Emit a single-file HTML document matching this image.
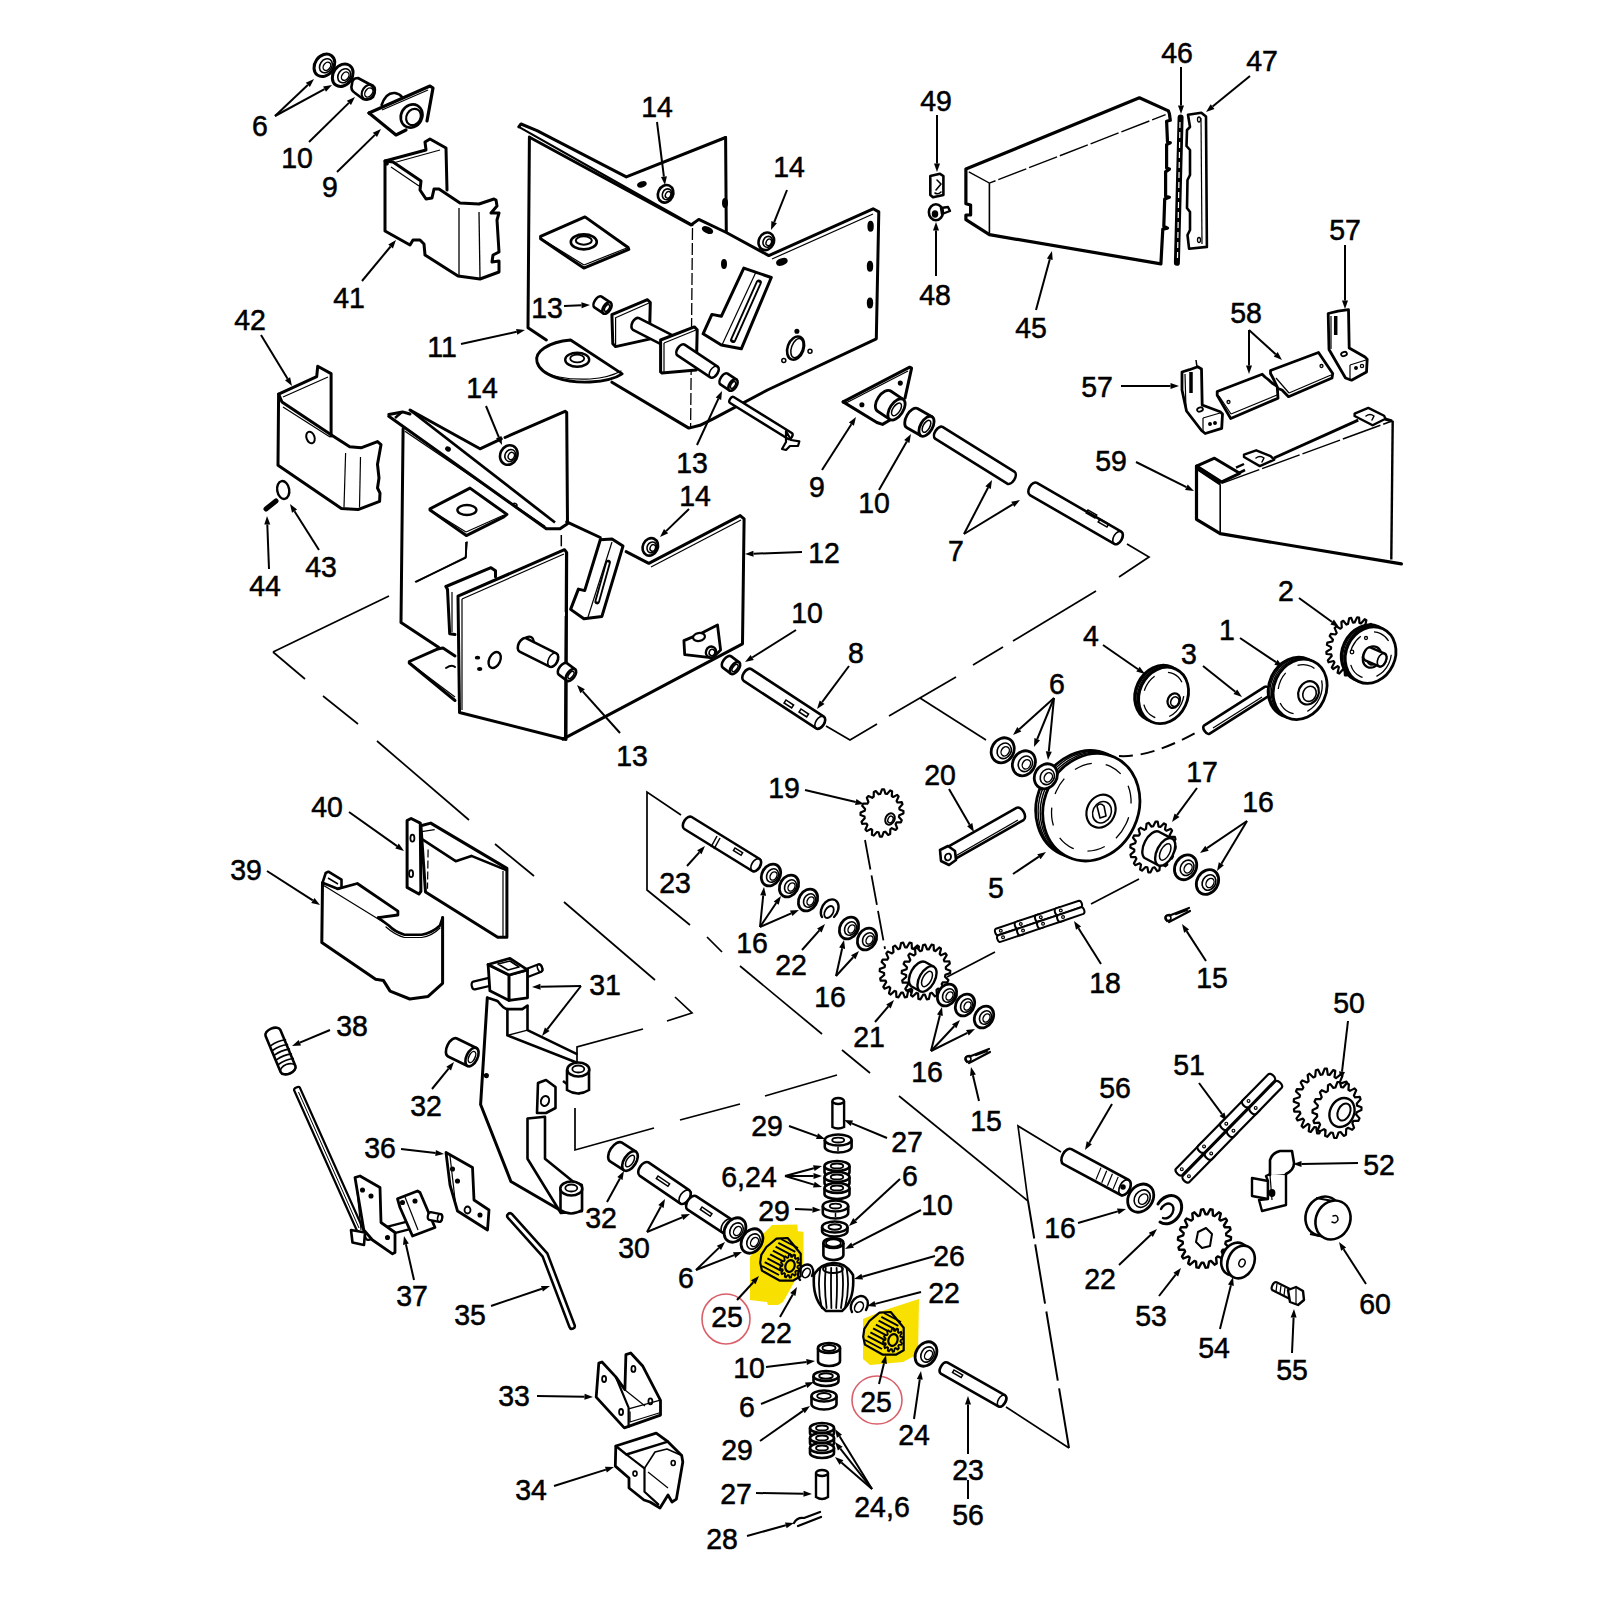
<!DOCTYPE html>
<html><head><meta charset="utf-8"><style>
html,body{margin:0;padding:0;background:#fff;}
svg{display:block;}
text{font-family:"Liberation Sans",sans-serif;fill:#000;}
</style></head><body>
<svg width="1600" height="1600" viewBox="0 0 1600 1600">
<rect width="1600" height="1600" fill="#fff"/>
<polygon points="772,1225 797.3,1224.5 797.9,1231.2 803.5,1231.8 803.5,1262 801,1270 783,1302 778,1305 768,1305 767,1302 750,1300 750,1257 762,1235" fill="#f8e000"/>
<polygon points="863,1319 882,1311 919,1299 918,1354 903,1362 870,1365 863,1359" fill="#f8e000"/>
<ellipse cx="726" cy="1319" rx="24" ry="25" fill="none" stroke="#d9606a" stroke-width="1.6"/>
<ellipse cx="877" cy="1400" rx="25" ry="24" fill="none" stroke="#d9606a" stroke-width="1.6"/>
<polyline points="273.0,652.0 389.0,596.0" fill="none" stroke="#000" stroke-width="1.7" stroke-linejoin="miter"/>
<polyline points="416.0,582.0 466.0,557.0 466.0,542.0" fill="none" stroke="#000" stroke-width="1.7" stroke-linejoin="miter"/>
<polyline points="273.0,652.0 305.0,679.0" fill="none" stroke="#000" stroke-width="1.7" stroke-linejoin="miter"/>
<polyline points="323.0,696.0 358.0,724.0" fill="none" stroke="#000" stroke-width="1.7" stroke-linejoin="miter"/>
<polyline points="377.0,741.0 469.0,820.0" fill="none" stroke="#000" stroke-width="1.7" stroke-linejoin="miter"/>
<polyline points="495.0,844.0 534.0,876.0" fill="none" stroke="#000" stroke-width="1.7" stroke-linejoin="miter"/>
<polyline points="564.0,902.0 655.0,980.0" fill="none" stroke="#000" stroke-width="1.7" stroke-linejoin="miter"/>
<polyline points="675.0,997.0 692.0,1013.0 667.0,1021.0" fill="none" stroke="#000" stroke-width="1.7" stroke-linejoin="miter"/>
<polyline points="643.0,1029.0 577.0,1047.0 577.0,1062.0" fill="none" stroke="#000" stroke-width="1.7" stroke-linejoin="miter"/>
<polyline points="575.0,1108.0 575.0,1150.0 654.0,1128.0" fill="none" stroke="#000" stroke-width="1.7" stroke-linejoin="miter"/>
<polyline points="680.0,1120.0 740.0,1104.0" fill="none" stroke="#000" stroke-width="1.7" stroke-linejoin="miter"/>
<polyline points="765.0,1096.0 837.0,1075.0" fill="none" stroke="#000" stroke-width="1.7" stroke-linejoin="miter"/>
<polyline points="681.0,815.0 647.0,792.0 647.0,890.0 690.0,925.0" fill="none" stroke="#000" stroke-width="1.7" stroke-linejoin="miter"/>
<polyline points="707.0,937.0 722.0,952.0" fill="none" stroke="#000" stroke-width="1.7" stroke-linejoin="miter"/>
<polyline points="740.0,966.0 822.0,1034.0" fill="none" stroke="#000" stroke-width="1.7" stroke-linejoin="miter"/>
<polyline points="842.0,1050.0 870.0,1073.0" fill="none" stroke="#000" stroke-width="1.7" stroke-linejoin="miter"/>
<polyline points="899.0,1096.0 1028.0,1201.0" fill="none" stroke="#000" stroke-width="1.7" stroke-linejoin="miter"/>
<polyline points="1061.0,1152.0 1018.0,1126.0 1028.0,1201.0" fill="none" stroke="#000" stroke-width="1.7" stroke-linejoin="miter"/>
<line x1="1028" y1="1201" x2="1069" y2="1448" stroke="#000" stroke-width="2" stroke-dasharray="38,6,60,8,70,8,80"/>
<polyline points="1069.0,1448.0 1006.0,1407.0" fill="none" stroke="#000" stroke-width="1.7" stroke-linejoin="miter"/>
<polyline points="826.0,726.0 850.0,740.0 877.0,724.0" fill="none" stroke="#000" stroke-width="1.7" stroke-linejoin="miter"/>
<polyline points="889.0,716.0 956.0,677.0" fill="none" stroke="#000" stroke-width="1.7" stroke-linejoin="miter"/>
<polyline points="973.0,665.0 1003.0,647.0" fill="none" stroke="#000" stroke-width="1.7" stroke-linejoin="miter"/>
<polyline points="1013.0,641.0 1096.0,591.0" fill="none" stroke="#000" stroke-width="1.7" stroke-linejoin="miter"/>
<polyline points="1119.0,577.0 1149.0,557.0 1127.0,544.0" fill="none" stroke="#000" stroke-width="1.7" stroke-linejoin="miter"/>
<polyline points="920.0,698.0 986.0,740.0" fill="none" stroke="#000" stroke-width="1.7" stroke-linejoin="miter"/>
<line x1="865" y1="840" x2="885" y2="949" stroke="#000" stroke-width="1.8" stroke-dasharray="30,6"/>
<polyline points="1139.0,879.0 1091.0,904.0" fill="none" stroke="#000" stroke-width="1.7" stroke-linejoin="miter"/>
<polyline points="995.0,952.0 947.0,977.0" fill="none" stroke="#000" stroke-width="1.7" stroke-linejoin="miter"/>
<path d="M1119,756 Q1150,758 1197,732" fill="none" stroke="#000" stroke-width="2" stroke-dasharray="14,8"/>
<text transform="translate(260 135.8) scale(0.95 1)" x="0" y="0" font-size="30" text-anchor="middle" stroke="#000" stroke-width="0.55">6</text>
<text transform="translate(297 167.8) scale(0.95 1)" x="0" y="0" font-size="30" text-anchor="middle" stroke="#000" stroke-width="0.55">10</text>
<text transform="translate(330 196.8) scale(0.95 1)" x="0" y="0" font-size="30" text-anchor="middle" stroke="#000" stroke-width="0.55">9</text>
<text transform="translate(349 307.8) scale(0.95 1)" x="0" y="0" font-size="30" text-anchor="middle" stroke="#000" stroke-width="0.55">41</text>
<text transform="translate(250 329.8) scale(0.95 1)" x="0" y="0" font-size="30" text-anchor="middle" stroke="#000" stroke-width="0.55">42</text>
<text transform="translate(321 576.8) scale(0.95 1)" x="0" y="0" font-size="30" text-anchor="middle" stroke="#000" stroke-width="0.55">43</text>
<text transform="translate(265 595.8) scale(0.95 1)" x="0" y="0" font-size="30" text-anchor="middle" stroke="#000" stroke-width="0.55">44</text>
<text transform="translate(657 116.8) scale(0.95 1)" x="0" y="0" font-size="30" text-anchor="middle" stroke="#000" stroke-width="0.55">14</text>
<text transform="translate(789 176.8) scale(0.95 1)" x="0" y="0" font-size="30" text-anchor="middle" stroke="#000" stroke-width="0.55">14</text>
<text transform="translate(547 317.8) scale(0.95 1)" x="0" y="0" font-size="30" text-anchor="middle" stroke="#000" stroke-width="0.55">13</text>
<text transform="translate(442 356.8) scale(0.95 1)" x="0" y="0" font-size="30" text-anchor="middle" stroke="#000" stroke-width="0.55">11</text>
<text transform="translate(482 397.8) scale(0.95 1)" x="0" y="0" font-size="30" text-anchor="middle" stroke="#000" stroke-width="0.55">14</text>
<text transform="translate(692 472.8) scale(0.95 1)" x="0" y="0" font-size="30" text-anchor="middle" stroke="#000" stroke-width="0.55">13</text>
<text transform="translate(936 110.8) scale(0.95 1)" x="0" y="0" font-size="30" text-anchor="middle" stroke="#000" stroke-width="0.55">49</text>
<text transform="translate(935 304.8) scale(0.95 1)" x="0" y="0" font-size="30" text-anchor="middle" stroke="#000" stroke-width="0.55">48</text>
<text transform="translate(1177 62.8) scale(0.95 1)" x="0" y="0" font-size="30" text-anchor="middle" stroke="#000" stroke-width="0.55">46</text>
<text transform="translate(1262 70.8) scale(0.95 1)" x="0" y="0" font-size="30" text-anchor="middle" stroke="#000" stroke-width="0.55">47</text>
<text transform="translate(1031 337.8) scale(0.95 1)" x="0" y="0" font-size="30" text-anchor="middle" stroke="#000" stroke-width="0.55">45</text>
<text transform="translate(1345 239.8) scale(0.95 1)" x="0" y="0" font-size="30" text-anchor="middle" stroke="#000" stroke-width="0.55">57</text>
<text transform="translate(1246 322.8) scale(0.95 1)" x="0" y="0" font-size="30" text-anchor="middle" stroke="#000" stroke-width="0.55">58</text>
<text transform="translate(1097 396.8) scale(0.95 1)" x="0" y="0" font-size="30" text-anchor="middle" stroke="#000" stroke-width="0.55">57</text>
<text transform="translate(1111 470.8) scale(0.95 1)" x="0" y="0" font-size="30" text-anchor="middle" stroke="#000" stroke-width="0.55">59</text>
<text transform="translate(817 496.8) scale(0.95 1)" x="0" y="0" font-size="30" text-anchor="middle" stroke="#000" stroke-width="0.55">9</text>
<text transform="translate(874 512.8) scale(0.95 1)" x="0" y="0" font-size="30" text-anchor="middle" stroke="#000" stroke-width="0.55">10</text>
<text transform="translate(695 505.8) scale(0.95 1)" x="0" y="0" font-size="30" text-anchor="middle" stroke="#000" stroke-width="0.55">14</text>
<text transform="translate(956 560.8) scale(0.95 1)" x="0" y="0" font-size="30" text-anchor="middle" stroke="#000" stroke-width="0.55">7</text>
<text transform="translate(824 562.8) scale(0.95 1)" x="0" y="0" font-size="30" text-anchor="middle" stroke="#000" stroke-width="0.55">12</text>
<text transform="translate(807 622.8) scale(0.95 1)" x="0" y="0" font-size="30" text-anchor="middle" stroke="#000" stroke-width="0.55">10</text>
<text transform="translate(856 662.8) scale(0.95 1)" x="0" y="0" font-size="30" text-anchor="middle" stroke="#000" stroke-width="0.55">8</text>
<text transform="translate(632 765.8) scale(0.95 1)" x="0" y="0" font-size="30" text-anchor="middle" stroke="#000" stroke-width="0.55">13</text>
<text transform="translate(1286 600.8) scale(0.95 1)" x="0" y="0" font-size="30" text-anchor="middle" stroke="#000" stroke-width="0.55">2</text>
<text transform="translate(1091 645.8) scale(0.95 1)" x="0" y="0" font-size="30" text-anchor="middle" stroke="#000" stroke-width="0.55">4</text>
<text transform="translate(1189 663.8) scale(0.95 1)" x="0" y="0" font-size="30" text-anchor="middle" stroke="#000" stroke-width="0.55">3</text>
<text transform="translate(1227 639.8) scale(0.95 1)" x="0" y="0" font-size="30" text-anchor="middle" stroke="#000" stroke-width="0.55">1</text>
<text transform="translate(1057 693.8) scale(0.95 1)" x="0" y="0" font-size="30" text-anchor="middle" stroke="#000" stroke-width="0.55">6</text>
<text transform="translate(784 797.8) scale(0.95 1)" x="0" y="0" font-size="30" text-anchor="middle" stroke="#000" stroke-width="0.55">19</text>
<text transform="translate(940 784.8) scale(0.95 1)" x="0" y="0" font-size="30" text-anchor="middle" stroke="#000" stroke-width="0.55">20</text>
<text transform="translate(1202 781.8) scale(0.95 1)" x="0" y="0" font-size="30" text-anchor="middle" stroke="#000" stroke-width="0.55">17</text>
<text transform="translate(1258 811.8) scale(0.95 1)" x="0" y="0" font-size="30" text-anchor="middle" stroke="#000" stroke-width="0.55">16</text>
<text transform="translate(996 897.8) scale(0.95 1)" x="0" y="0" font-size="30" text-anchor="middle" stroke="#000" stroke-width="0.55">5</text>
<text transform="translate(327 816.8) scale(0.95 1)" x="0" y="0" font-size="30" text-anchor="middle" stroke="#000" stroke-width="0.55">40</text>
<text transform="translate(246 879.8) scale(0.95 1)" x="0" y="0" font-size="30" text-anchor="middle" stroke="#000" stroke-width="0.55">39</text>
<text transform="translate(675 892.8) scale(0.95 1)" x="0" y="0" font-size="30" text-anchor="middle" stroke="#000" stroke-width="0.55">23</text>
<text transform="translate(752 952.8) scale(0.95 1)" x="0" y="0" font-size="30" text-anchor="middle" stroke="#000" stroke-width="0.55">16</text>
<text transform="translate(791 974.8) scale(0.95 1)" x="0" y="0" font-size="30" text-anchor="middle" stroke="#000" stroke-width="0.55">22</text>
<text transform="translate(830 1006.8) scale(0.95 1)" x="0" y="0" font-size="30" text-anchor="middle" stroke="#000" stroke-width="0.55">16</text>
<text transform="translate(1105 992.8) scale(0.95 1)" x="0" y="0" font-size="30" text-anchor="middle" stroke="#000" stroke-width="0.55">18</text>
<text transform="translate(1212 987.8) scale(0.95 1)" x="0" y="0" font-size="30" text-anchor="middle" stroke="#000" stroke-width="0.55">15</text>
<text transform="translate(605 994.8) scale(0.95 1)" x="0" y="0" font-size="30" text-anchor="middle" stroke="#000" stroke-width="0.55">31</text>
<text transform="translate(869 1046.8) scale(0.95 1)" x="0" y="0" font-size="30" text-anchor="middle" stroke="#000" stroke-width="0.55">21</text>
<text transform="translate(1349 1012.8) scale(0.95 1)" x="0" y="0" font-size="30" text-anchor="middle" stroke="#000" stroke-width="0.55">50</text>
<text transform="translate(352 1035.8) scale(0.95 1)" x="0" y="0" font-size="30" text-anchor="middle" stroke="#000" stroke-width="0.55">38</text>
<text transform="translate(927 1081.8) scale(0.95 1)" x="0" y="0" font-size="30" text-anchor="middle" stroke="#000" stroke-width="0.55">16</text>
<text transform="translate(1189 1074.8) scale(0.95 1)" x="0" y="0" font-size="30" text-anchor="middle" stroke="#000" stroke-width="0.55">51</text>
<text transform="translate(1115 1097.8) scale(0.95 1)" x="0" y="0" font-size="30" text-anchor="middle" stroke="#000" stroke-width="0.55">56</text>
<text transform="translate(426 1115.8) scale(0.95 1)" x="0" y="0" font-size="30" text-anchor="middle" stroke="#000" stroke-width="0.55">32</text>
<text transform="translate(986 1130.8) scale(0.95 1)" x="0" y="0" font-size="30" text-anchor="middle" stroke="#000" stroke-width="0.55">15</text>
<text transform="translate(767 1135.8) scale(0.95 1)" x="0" y="0" font-size="30" text-anchor="middle" stroke="#000" stroke-width="0.55">29</text>
<text transform="translate(907 1151.8) scale(0.95 1)" x="0" y="0" font-size="30" text-anchor="middle" stroke="#000" stroke-width="0.55">27</text>
<text transform="translate(380 1157.8) scale(0.95 1)" x="0" y="0" font-size="30" text-anchor="middle" stroke="#000" stroke-width="0.55">36</text>
<text transform="translate(1379 1174.8) scale(0.95 1)" x="0" y="0" font-size="30" text-anchor="middle" stroke="#000" stroke-width="0.55">52</text>
<text transform="translate(749 1186.8) scale(0.95 1)" x="0" y="0" font-size="30" text-anchor="middle" stroke="#000" stroke-width="0.55">6,24</text>
<text transform="translate(910 1185.8) scale(0.95 1)" x="0" y="0" font-size="30" text-anchor="middle" stroke="#000" stroke-width="0.55">6</text>
<text transform="translate(774 1220.8) scale(0.95 1)" x="0" y="0" font-size="30" text-anchor="middle" stroke="#000" stroke-width="0.55">29</text>
<text transform="translate(937 1214.8) scale(0.95 1)" x="0" y="0" font-size="30" text-anchor="middle" stroke="#000" stroke-width="0.55">10</text>
<text transform="translate(601 1227.8) scale(0.95 1)" x="0" y="0" font-size="30" text-anchor="middle" stroke="#000" stroke-width="0.55">32</text>
<text transform="translate(1060 1237.8) scale(0.95 1)" x="0" y="0" font-size="30" text-anchor="middle" stroke="#000" stroke-width="0.55">16</text>
<text transform="translate(634 1257.8) scale(0.95 1)" x="0" y="0" font-size="30" text-anchor="middle" stroke="#000" stroke-width="0.55">30</text>
<text transform="translate(949 1265.8) scale(0.95 1)" x="0" y="0" font-size="30" text-anchor="middle" stroke="#000" stroke-width="0.55">26</text>
<text transform="translate(686 1287.8) scale(0.95 1)" x="0" y="0" font-size="30" text-anchor="middle" stroke="#000" stroke-width="0.55">6</text>
<text transform="translate(1100 1288.8) scale(0.95 1)" x="0" y="0" font-size="30" text-anchor="middle" stroke="#000" stroke-width="0.55">22</text>
<text transform="translate(944 1302.8) scale(0.95 1)" x="0" y="0" font-size="30" text-anchor="middle" stroke="#000" stroke-width="0.55">22</text>
<text transform="translate(412 1305.8) scale(0.95 1)" x="0" y="0" font-size="30" text-anchor="middle" stroke="#000" stroke-width="0.55">37</text>
<text transform="translate(470 1324.8) scale(0.95 1)" x="0" y="0" font-size="30" text-anchor="middle" stroke="#000" stroke-width="0.55">35</text>
<text transform="translate(1375 1313.8) scale(0.95 1)" x="0" y="0" font-size="30" text-anchor="middle" stroke="#000" stroke-width="0.55">60</text>
<text transform="translate(1151 1325.8) scale(0.95 1)" x="0" y="0" font-size="30" text-anchor="middle" stroke="#000" stroke-width="0.55">53</text>
<text transform="translate(727 1326.8) scale(0.95 1)" x="0" y="0" font-size="30" text-anchor="middle" stroke="#000" stroke-width="0.55">25</text>
<text transform="translate(776 1342.8) scale(0.95 1)" x="0" y="0" font-size="30" text-anchor="middle" stroke="#000" stroke-width="0.55">22</text>
<text transform="translate(1214 1357.8) scale(0.95 1)" x="0" y="0" font-size="30" text-anchor="middle" stroke="#000" stroke-width="0.55">54</text>
<text transform="translate(749 1377.8) scale(0.95 1)" x="0" y="0" font-size="30" text-anchor="middle" stroke="#000" stroke-width="0.55">10</text>
<text transform="translate(1292 1379.8) scale(0.95 1)" x="0" y="0" font-size="30" text-anchor="middle" stroke="#000" stroke-width="0.55">55</text>
<text transform="translate(514 1405.8) scale(0.95 1)" x="0" y="0" font-size="30" text-anchor="middle" stroke="#000" stroke-width="0.55">33</text>
<text transform="translate(876 1411.8) scale(0.95 1)" x="0" y="0" font-size="30" text-anchor="middle" stroke="#000" stroke-width="0.55">25</text>
<text transform="translate(747 1416.8) scale(0.95 1)" x="0" y="0" font-size="30" text-anchor="middle" stroke="#000" stroke-width="0.55">6</text>
<text transform="translate(914 1444.8) scale(0.95 1)" x="0" y="0" font-size="30" text-anchor="middle" stroke="#000" stroke-width="0.55">24</text>
<text transform="translate(737 1459.8) scale(0.95 1)" x="0" y="0" font-size="30" text-anchor="middle" stroke="#000" stroke-width="0.55">29</text>
<text transform="translate(968 1479.8) scale(0.95 1)" x="0" y="0" font-size="30" text-anchor="middle" stroke="#000" stroke-width="0.55">23</text>
<text transform="translate(531 1499.8) scale(0.95 1)" x="0" y="0" font-size="30" text-anchor="middle" stroke="#000" stroke-width="0.55">34</text>
<text transform="translate(736 1503.8) scale(0.95 1)" x="0" y="0" font-size="30" text-anchor="middle" stroke="#000" stroke-width="0.55">27</text>
<text transform="translate(882 1516.8) scale(0.95 1)" x="0" y="0" font-size="30" text-anchor="middle" stroke="#000" stroke-width="0.55">24,6</text>
<text transform="translate(968 1524.8) scale(0.95 1)" x="0" y="0" font-size="30" text-anchor="middle" stroke="#000" stroke-width="0.55">56</text>
<text transform="translate(722 1548.8) scale(0.95 1)" x="0" y="0" font-size="30" text-anchor="middle" stroke="#000" stroke-width="0.55">28</text>
<line x1="275" y1="116" x2="307.8" y2="84.9" stroke="#000" stroke-width="2.0"/>
<polygon points="314,79 309.9,87.0 305.8,82.7" fill="#000"/>
<line x1="275" y1="116" x2="324.5" y2="89.1" stroke="#000" stroke-width="2.0"/>
<polygon points="332,85 326.0,91.7 323.1,86.4" fill="#000"/>
<line x1="309" y1="142" x2="348.9" y2="102.9" stroke="#000" stroke-width="2.0"/>
<polygon points="355,97 351.0,105.1 346.8,100.8" fill="#000"/>
<line x1="337" y1="172" x2="374.9" y2="134.9" stroke="#000" stroke-width="2.0"/>
<polygon points="381,129 377.0,137.1 372.8,132.8" fill="#000"/>
<line x1="362" y1="281" x2="390.6" y2="246.5" stroke="#000" stroke-width="2.0"/>
<polygon points="396,240 392.9,248.5 388.3,244.6" fill="#000"/>
<line x1="261" y1="335" x2="287.6" y2="378.7" stroke="#000" stroke-width="2.0"/>
<polygon points="292,386 285.0,380.3 290.1,377.2" fill="#000"/>
<line x1="319" y1="550" x2="294.5" y2="511.2" stroke="#000" stroke-width="2.0"/>
<polygon points="290,504 297.1,509.6 292.0,512.8" fill="#000"/>
<line x1="269" y1="569" x2="267.3" y2="524.5" stroke="#000" stroke-width="2.0"/>
<polygon points="267,516 270.3,524.4 264.3,524.6" fill="#000"/>
<line x1="657" y1="122" x2="663.9" y2="176.6" stroke="#000" stroke-width="2.0"/>
<polygon points="665,185 661.0,176.9 666.9,176.2" fill="#000"/>
<line x1="787" y1="190" x2="774.2" y2="222.1" stroke="#000" stroke-width="2.0"/>
<polygon points="771,230 771.4,221.0 776.9,223.2" fill="#000"/>
<line x1="564" y1="306" x2="581.5" y2="305.3" stroke="#000" stroke-width="2.0"/>
<polygon points="590,305 581.6,308.3 581.4,302.3" fill="#000"/>
<line x1="461" y1="344" x2="516.7" y2="331.8" stroke="#000" stroke-width="2.0"/>
<polygon points="525,330 517.3,334.7 516.1,328.9" fill="#000"/>
<line x1="486" y1="406" x2="498.8" y2="437.1" stroke="#000" stroke-width="2.0"/>
<polygon points="502,445 496.0,438.3 501.5,436.0" fill="#000"/>
<line x1="697" y1="445" x2="718.4" y2="398.7" stroke="#000" stroke-width="2.0"/>
<polygon points="722,391 721.2,400.0 715.7,397.5" fill="#000"/>
<line x1="937" y1="115" x2="937.0" y2="163.5" stroke="#000" stroke-width="2.0"/>
<polygon points="937,172 934.0,163.5 940.0,163.5" fill="#000"/>
<line x1="936" y1="276" x2="936.0" y2="230.5" stroke="#000" stroke-width="2.0"/>
<polygon points="936,222 939.0,230.5 933.0,230.5" fill="#000"/>
<line x1="1181" y1="67" x2="1181.0" y2="105.5" stroke="#000" stroke-width="2.0"/>
<polygon points="1181,114 1178.0,105.5 1184.0,105.5" fill="#000"/>
<line x1="1250" y1="76" x2="1212.6" y2="106.6" stroke="#000" stroke-width="2.0"/>
<polygon points="1206,112 1210.7,104.3 1214.5,108.9" fill="#000"/>
<line x1="1036" y1="310" x2="1049.8" y2="259.2" stroke="#000" stroke-width="2.0"/>
<polygon points="1052,251 1052.7,260.0 1046.9,258.4" fill="#000"/>
<line x1="1345" y1="245" x2="1345.0" y2="300.5" stroke="#000" stroke-width="2.0"/>
<polygon points="1345,309 1342.0,300.5 1348.0,300.5" fill="#000"/>
<line x1="1249" y1="330" x2="1249.0" y2="365.5" stroke="#000" stroke-width="2.0"/>
<polygon points="1249,374 1246.0,365.5 1252.0,365.5" fill="#000"/>
<line x1="1249" y1="330" x2="1275.7" y2="354.3" stroke="#000" stroke-width="2.0"/>
<polygon points="1282,360 1273.7,356.5 1277.7,352.1" fill="#000"/>
<line x1="1121" y1="386" x2="1170.5" y2="386.0" stroke="#000" stroke-width="2.0"/>
<polygon points="1179,386 1170.5,389.0 1170.5,383.0" fill="#000"/>
<line x1="1136" y1="462" x2="1186.4" y2="487.2" stroke="#000" stroke-width="2.0"/>
<polygon points="1194,491 1185.1,489.9 1187.7,484.5" fill="#000"/>
<line x1="822" y1="470" x2="851.4" y2="424.2" stroke="#000" stroke-width="2.0"/>
<polygon points="856,417 853.9,425.8 848.9,422.5" fill="#000"/>
<line x1="879" y1="490" x2="906.8" y2="441.4" stroke="#000" stroke-width="2.0"/>
<polygon points="911,434 909.4,442.9 904.2,439.9" fill="#000"/>
<line x1="964" y1="534" x2="988.1" y2="487.5" stroke="#000" stroke-width="2.0"/>
<polygon points="992,480 990.8,488.9 985.4,486.2" fill="#000"/>
<line x1="964" y1="534" x2="1012.7" y2="504.4" stroke="#000" stroke-width="2.0"/>
<polygon points="1020,500 1014.3,507.0 1011.2,501.8" fill="#000"/>
<line x1="689" y1="509" x2="666.1" y2="531.1" stroke="#000" stroke-width="2.0"/>
<polygon points="660,537 664.0,528.9 668.2,533.3" fill="#000"/>
<line x1="802" y1="552" x2="753.5" y2="553.7" stroke="#000" stroke-width="2.0"/>
<polygon points="745,554 753.4,550.7 753.6,556.7" fill="#000"/>
<line x1="796" y1="630" x2="752.2" y2="657.5" stroke="#000" stroke-width="2.0"/>
<polygon points="745,662 750.6,654.9 753.8,660.0" fill="#000"/>
<line x1="849" y1="666" x2="822.1" y2="702.2" stroke="#000" stroke-width="2.0"/>
<polygon points="817,709 819.7,700.4 824.5,704.0" fill="#000"/>
<line x1="620" y1="733" x2="582.7" y2="691.3" stroke="#000" stroke-width="2.0"/>
<polygon points="577,685 584.9,689.3 580.4,693.3" fill="#000"/>
<line x1="1299" y1="598" x2="1332.1" y2="622.0" stroke="#000" stroke-width="2.0"/>
<polygon points="1339,627 1330.4,624.4 1333.9,619.6" fill="#000"/>
<line x1="1103" y1="645" x2="1138.0" y2="669.2" stroke="#000" stroke-width="2.0"/>
<polygon points="1145,674 1136.3,671.6 1139.7,666.7" fill="#000"/>
<line x1="1240" y1="638" x2="1276.0" y2="662.2" stroke="#000" stroke-width="2.0"/>
<polygon points="1283,667 1274.3,664.7 1277.6,659.8" fill="#000"/>
<line x1="1203" y1="666" x2="1235.3" y2="691.7" stroke="#000" stroke-width="2.0"/>
<polygon points="1242,697 1233.5,694.1 1237.2,689.4" fill="#000"/>
<line x1="1054" y1="698" x2="1019.3" y2="729.3" stroke="#000" stroke-width="2.0"/>
<polygon points="1013,735 1017.3,727.1 1021.3,731.5" fill="#000"/>
<line x1="1054" y1="698" x2="1037.2" y2="739.1" stroke="#000" stroke-width="2.0"/>
<polygon points="1034,747 1034.4,738.0 1040.0,740.3" fill="#000"/>
<line x1="1054" y1="698" x2="1048.8" y2="751.5" stroke="#000" stroke-width="2.0"/>
<polygon points="1048,760 1045.8,751.3 1051.8,751.8" fill="#000"/>
<line x1="805" y1="790" x2="855.7" y2="802.0" stroke="#000" stroke-width="2.0"/>
<polygon points="864,804 855.0,805.0 856.4,799.1" fill="#000"/>
<line x1="949" y1="789" x2="969.7" y2="824.7" stroke="#000" stroke-width="2.0"/>
<polygon points="974,832 967.1,826.2 972.3,823.1" fill="#000"/>
<line x1="1197" y1="788" x2="1177.0" y2="815.2" stroke="#000" stroke-width="2.0"/>
<polygon points="1172,822 1174.6,813.4 1179.5,816.9" fill="#000"/>
<line x1="1247" y1="821" x2="1207.0" y2="848.2" stroke="#000" stroke-width="2.0"/>
<polygon points="1200,853 1205.3,845.7 1208.7,850.7" fill="#000"/>
<line x1="1247" y1="821" x2="1221.4" y2="863.7" stroke="#000" stroke-width="2.0"/>
<polygon points="1217,871 1218.8,862.2 1223.9,865.3" fill="#000"/>
<line x1="1013" y1="874" x2="1038.9" y2="856.7" stroke="#000" stroke-width="2.0"/>
<polygon points="1046,852 1040.6,859.2 1037.3,854.2" fill="#000"/>
<line x1="349" y1="812" x2="397.1" y2="846.1" stroke="#000" stroke-width="2.0"/>
<polygon points="404,851 395.3,848.5 398.8,843.6" fill="#000"/>
<line x1="267" y1="871" x2="312.8" y2="900.4" stroke="#000" stroke-width="2.0"/>
<polygon points="320,905 311.2,902.9 314.5,897.9" fill="#000"/>
<line x1="687" y1="866" x2="699.3" y2="852.3" stroke="#000" stroke-width="2.0"/>
<polygon points="705,846 701.5,854.3 697.1,850.3" fill="#000"/>
<line x1="760" y1="927" x2="763.2" y2="895.5" stroke="#000" stroke-width="2.0"/>
<polygon points="764,887 766.1,895.8 760.2,895.2" fill="#000"/>
<line x1="760" y1="927" x2="776.2" y2="903.0" stroke="#000" stroke-width="2.0"/>
<polygon points="781,896 778.7,904.7 773.7,901.4" fill="#000"/>
<line x1="760" y1="927" x2="791.2" y2="913.4" stroke="#000" stroke-width="2.0"/>
<polygon points="799,910 792.4,916.1 790.0,910.6" fill="#000"/>
<line x1="802" y1="950" x2="819.4" y2="930.4" stroke="#000" stroke-width="2.0"/>
<polygon points="825,924 821.6,932.4 817.1,928.4" fill="#000"/>
<line x1="836" y1="976" x2="842.2" y2="948.3" stroke="#000" stroke-width="2.0"/>
<polygon points="844,940 845.1,948.9 839.2,947.6" fill="#000"/>
<line x1="836" y1="976" x2="853.2" y2="957.3" stroke="#000" stroke-width="2.0"/>
<polygon points="859,951 855.5,959.3 851.0,955.2" fill="#000"/>
<line x1="1101" y1="964" x2="1078.5" y2="928.2" stroke="#000" stroke-width="2.0"/>
<polygon points="1074,921 1081.1,926.6 1076.0,929.8" fill="#000"/>
<line x1="1206" y1="961" x2="1186.6" y2="931.1" stroke="#000" stroke-width="2.0"/>
<polygon points="1182,924 1189.1,929.5 1184.1,932.8" fill="#000"/>
<line x1="581" y1="986" x2="540.5" y2="986.8" stroke="#000" stroke-width="2.0"/>
<polygon points="532,987 540.4,983.8 540.6,989.8" fill="#000"/>
<line x1="581" y1="986" x2="547.2" y2="1029.3" stroke="#000" stroke-width="2.0"/>
<polygon points="542,1036 544.9,1027.5 549.6,1031.1" fill="#000"/>
<line x1="875" y1="1022" x2="888.4" y2="1006.4" stroke="#000" stroke-width="2.0"/>
<polygon points="894,1000 890.7,1008.4 886.2,1004.5" fill="#000"/>
<line x1="1348" y1="1021" x2="1342.0" y2="1071.6" stroke="#000" stroke-width="2.0"/>
<polygon points="1341,1080 1339.0,1071.2 1345.0,1071.9" fill="#000"/>
<line x1="330" y1="1030" x2="299.8" y2="1042.7" stroke="#000" stroke-width="2.0"/>
<polygon points="292,1046 298.7,1039.9 301.0,1045.5" fill="#000"/>
<line x1="931" y1="1051" x2="939.9" y2="1015.2" stroke="#000" stroke-width="2.0"/>
<polygon points="942,1007 942.8,1016.0 937.0,1014.5" fill="#000"/>
<line x1="931" y1="1051" x2="954.2" y2="1026.2" stroke="#000" stroke-width="2.0"/>
<polygon points="960,1020 956.4,1028.3 952.0,1024.2" fill="#000"/>
<line x1="931" y1="1051" x2="967.4" y2="1032.8" stroke="#000" stroke-width="2.0"/>
<polygon points="975,1029 968.7,1035.5 966.1,1030.1" fill="#000"/>
<line x1="1199" y1="1083" x2="1222.0" y2="1114.2" stroke="#000" stroke-width="2.0"/>
<polygon points="1227,1121 1219.5,1115.9 1224.4,1112.4" fill="#000"/>
<line x1="1112" y1="1104" x2="1089.3" y2="1142.7" stroke="#000" stroke-width="2.0"/>
<polygon points="1085,1150 1086.7,1141.2 1091.9,1144.2" fill="#000"/>
<line x1="432" y1="1089" x2="448.6" y2="1068.6" stroke="#000" stroke-width="2.0"/>
<polygon points="454,1062 451.0,1070.5 446.3,1066.7" fill="#000"/>
<line x1="979" y1="1101" x2="972.9" y2="1075.3" stroke="#000" stroke-width="2.0"/>
<polygon points="971,1067 975.9,1074.6 970.0,1076.0" fill="#000"/>
<line x1="789" y1="1126" x2="817.0" y2="1136.1" stroke="#000" stroke-width="2.0"/>
<polygon points="825,1139 816.0,1138.9 818.0,1133.3" fill="#000"/>
<line x1="887" y1="1138" x2="851.8" y2="1123.3" stroke="#000" stroke-width="2.0"/>
<polygon points="844,1120 853.0,1120.5 850.7,1126.0" fill="#000"/>
<line x1="401" y1="1149" x2="435.6" y2="1153.0" stroke="#000" stroke-width="2.0"/>
<polygon points="444,1154 435.2,1156.0 435.9,1150.0" fill="#000"/>
<line x1="1358" y1="1163" x2="1301.5" y2="1163.9" stroke="#000" stroke-width="2.0"/>
<polygon points="1293,1164 1301.5,1160.9 1301.5,1166.9" fill="#000"/>
<line x1="785" y1="1176" x2="813.8" y2="1168.2" stroke="#000" stroke-width="2.0"/>
<polygon points="822,1166 814.6,1171.1 813.0,1165.3" fill="#000"/>
<line x1="785" y1="1176" x2="813.5" y2="1176.0" stroke="#000" stroke-width="2.0"/>
<polygon points="822,1176 813.5,1179.0 813.5,1173.0" fill="#000"/>
<line x1="785" y1="1176" x2="813.9" y2="1184.6" stroke="#000" stroke-width="2.0"/>
<polygon points="822,1187 813.0,1187.5 814.7,1181.7" fill="#000"/>
<line x1="900" y1="1179" x2="855.3" y2="1220.2" stroke="#000" stroke-width="2.0"/>
<polygon points="849,1226 853.2,1218.0 857.3,1222.4" fill="#000"/>
<line x1="795" y1="1209" x2="812.5" y2="1209.7" stroke="#000" stroke-width="2.0"/>
<polygon points="821,1210 812.4,1212.7 812.6,1206.7" fill="#000"/>
<line x1="921" y1="1210" x2="852.6" y2="1245.1" stroke="#000" stroke-width="2.0"/>
<polygon points="845,1249 851.2,1242.5 853.9,1247.8" fill="#000"/>
<line x1="607" y1="1202" x2="619.9" y2="1178.5" stroke="#000" stroke-width="2.0"/>
<polygon points="624,1171 622.5,1179.9 617.3,1177.0" fill="#000"/>
<line x1="1078" y1="1223" x2="1117.8" y2="1211.4" stroke="#000" stroke-width="2.0"/>
<polygon points="1126,1209 1118.7,1214.3 1117.0,1208.5" fill="#000"/>
<line x1="647" y1="1232" x2="660.9" y2="1206.5" stroke="#000" stroke-width="2.0"/>
<polygon points="665,1199 663.6,1207.9 658.3,1205.0" fill="#000"/>
<line x1="647" y1="1232" x2="682.2" y2="1217.3" stroke="#000" stroke-width="2.0"/>
<polygon points="690,1214 683.3,1220.0 681.0,1214.5" fill="#000"/>
<line x1="935" y1="1256" x2="862.2" y2="1276.7" stroke="#000" stroke-width="2.0"/>
<polygon points="854,1279 861.4,1273.8 863.0,1279.6" fill="#000"/>
<line x1="696" y1="1270" x2="718.9" y2="1247.9" stroke="#000" stroke-width="2.0"/>
<polygon points="725,1242 721.0,1250.1 716.8,1245.7" fill="#000"/>
<line x1="696" y1="1270" x2="734.1" y2="1255.1" stroke="#000" stroke-width="2.0"/>
<polygon points="742,1252 735.2,1257.9 733.0,1252.3" fill="#000"/>
<line x1="1119" y1="1265" x2="1150.8" y2="1234.8" stroke="#000" stroke-width="2.0"/>
<polygon points="1157,1229 1152.9,1237.0 1148.8,1232.7" fill="#000"/>
<line x1="921" y1="1292" x2="875.2" y2="1303.9" stroke="#000" stroke-width="2.0"/>
<polygon points="867,1306 874.5,1301.0 876.0,1306.8" fill="#000"/>
<line x1="414" y1="1280" x2="405.9" y2="1244.3" stroke="#000" stroke-width="2.0"/>
<polygon points="404,1236 408.8,1243.6 403.0,1245.0" fill="#000"/>
<line x1="491" y1="1306" x2="541.9" y2="1288.7" stroke="#000" stroke-width="2.0"/>
<polygon points="550,1286 542.9,1291.6 541.0,1285.9" fill="#000"/>
<line x1="1366" y1="1284" x2="1343.6" y2="1249.2" stroke="#000" stroke-width="2.0"/>
<polygon points="1339,1242 1346.1,1247.5 1341.1,1250.8" fill="#000"/>
<line x1="1159" y1="1296" x2="1175.7" y2="1274.7" stroke="#000" stroke-width="2.0"/>
<polygon points="1181,1268 1178.1,1276.5 1173.4,1272.8" fill="#000"/>
<line x1="780" y1="1317" x2="792.8" y2="1294.4" stroke="#000" stroke-width="2.0"/>
<polygon points="797,1287 795.4,1295.9 790.2,1292.9" fill="#000"/>
<line x1="1220" y1="1329" x2="1230.9" y2="1285.2" stroke="#000" stroke-width="2.0"/>
<polygon points="1233,1277 1233.8,1286.0 1228.0,1284.5" fill="#000"/>
<line x1="766" y1="1367" x2="806.6" y2="1362.0" stroke="#000" stroke-width="2.0"/>
<polygon points="815,1361 806.9,1365.0 806.2,1359.1" fill="#000"/>
<line x1="1292" y1="1353" x2="1293.6" y2="1317.5" stroke="#000" stroke-width="2.0"/>
<polygon points="1294,1309 1296.6,1317.6 1290.6,1317.4" fill="#000"/>
<line x1="537" y1="1396" x2="584.5" y2="1396.8" stroke="#000" stroke-width="2.0"/>
<polygon points="593,1397 584.4,1399.8 584.6,1393.8" fill="#000"/>
<line x1="737" y1="1300" x2="753.3" y2="1282.3" stroke="#000" stroke-width="2.0"/>
<polygon points="759,1276 755.5,1284.3 751.0,1280.2" fill="#000"/>
<line x1="879" y1="1384" x2="884.0" y2="1363.3" stroke="#000" stroke-width="2.0"/>
<polygon points="886,1355 886.9,1364.0 881.1,1362.6" fill="#000"/>
<line x1="761" y1="1404" x2="806.1" y2="1385.3" stroke="#000" stroke-width="2.0"/>
<polygon points="814,1382 807.3,1388.0 805.0,1382.5" fill="#000"/>
<line x1="914" y1="1419" x2="919.8" y2="1379.4" stroke="#000" stroke-width="2.0"/>
<polygon points="921,1371 922.7,1379.8 916.8,1379.0" fill="#000"/>
<line x1="760" y1="1441" x2="803.0" y2="1410.9" stroke="#000" stroke-width="2.0"/>
<polygon points="810,1406 804.8,1413.3 801.3,1408.4" fill="#000"/>
<line x1="968" y1="1454" x2="968.0" y2="1404.5" stroke="#000" stroke-width="2.0"/>
<polygon points="968,1396 971.0,1404.5 965.0,1404.5" fill="#000"/>
<line x1="554" y1="1486" x2="605.9" y2="1469.6" stroke="#000" stroke-width="2.0"/>
<polygon points="614,1467 606.8,1472.4 605.0,1466.7" fill="#000"/>
<line x1="756" y1="1493" x2="803.5" y2="1493.8" stroke="#000" stroke-width="2.0"/>
<polygon points="812,1494 803.4,1496.8 803.6,1490.8" fill="#000"/>
<line x1="872" y1="1489" x2="839.5" y2="1436.2" stroke="#000" stroke-width="2.0"/>
<polygon points="835,1429 842.0,1434.7 836.9,1437.8" fill="#000"/>
<line x1="872" y1="1489" x2="840.3" y2="1448.7" stroke="#000" stroke-width="2.0"/>
<polygon points="835,1442 842.6,1446.8 837.9,1450.5" fill="#000"/>
<line x1="872" y1="1489" x2="841.4" y2="1462.6" stroke="#000" stroke-width="2.0"/>
<polygon points="835,1457 843.4,1460.3 839.5,1464.8" fill="#000"/>
<line x1="747" y1="1536" x2="785.8" y2="1525.3" stroke="#000" stroke-width="2.0"/>
<polygon points="794,1523 786.6,1528.2 785.0,1522.4" fill="#000"/>
<line x1="968" y1="1480" x2="968" y2="1499" stroke="#000" stroke-width="2.0" stroke-linecap="butt"/>
<ellipse cx="324.4" cy="65.3" rx="9.5" ry="12" transform="rotate(35 324.4 65.3)" fill="#fff" stroke="#000" stroke-width="3"/>
<ellipse cx="325.9" cy="65.8" rx="5.89" ry="7.4399999999999995" transform="rotate(35 325.9 65.8)" fill="none" stroke="#000" stroke-width="1.6"/>
<ellipse cx="326.9" cy="66.3" rx="3.3249999999999997" ry="4.5600000000000005" transform="rotate(35 326.9 66.3)" fill="none" stroke="#000" stroke-width="1.4"/>
<ellipse cx="342.7" cy="75.2" rx="9.5" ry="12" transform="rotate(35 342.7 75.2)" fill="#fff" stroke="#000" stroke-width="3"/>
<ellipse cx="344.2" cy="75.7" rx="5.89" ry="7.4399999999999995" transform="rotate(35 344.2 75.7)" fill="none" stroke="#000" stroke-width="1.6"/>
<ellipse cx="345.2" cy="76.2" rx="3.3249999999999997" ry="4.5600000000000005" transform="rotate(35 345.2 76.2)" fill="none" stroke="#000" stroke-width="1.4"/>
<path d="M352,84 Q352,78 358,78 L371,85 Q377,90 373,97 Q369,101 363,99 L355,93 Q350,90 352,84 Z" fill="#fff" stroke="#000" stroke-width="2.6" stroke-linejoin="round" stroke-linecap="round"/>
<ellipse cx="368.4" cy="92" rx="6" ry="8" transform="rotate(35 368.4 92)" fill="none" stroke="#000" stroke-width="2.2"/>
<ellipse cx="368.8" cy="92.5" rx="3.5" ry="5" transform="rotate(35 368.8 92.5)" fill="none" stroke="#000" stroke-width="1.4"/>
<path d="M381.6,105 Q386,92 395,93 Q400,94 402,97" fill="none" stroke="#000" stroke-width="2.6" stroke-linejoin="round" stroke-linecap="round"/>
<polyline points="369.0,113.0 430.0,86.0 433.0,88.0 427.0,121.0" fill="none" stroke="#000" stroke-width="3.2" stroke-linejoin="round" stroke-linecap="round"/>
<polyline points="369.0,113.0 396.0,135.0 406.0,130.0" fill="none" stroke="#000" stroke-width="3.2" stroke-linejoin="round" stroke-linecap="round"/>
<line x1="382" y1="110" x2="428" y2="90" stroke="#000" stroke-width="1.2" stroke-linecap="butt"/>
<ellipse cx="411.6" cy="116" rx="10.5" ry="12" transform="rotate(30 411.6 116)" fill="#fff" stroke="#000" stroke-width="2.6"/>
<ellipse cx="413.5" cy="117" rx="7" ry="8.5" transform="rotate(30 413.5 117)" fill="none" stroke="#000" stroke-width="2.2"/>
<polygon points="385.0,161.0 385.0,231.0 410.0,245.0 413.0,240.0 420.0,240.0 424.0,244.0 425.0,255.0 458.0,276.0 480.0,279.0 499.0,272.0 499.0,261.0 492.0,262.0 493.0,255.0 499.0,252.0 497.0,220.0 499.0,213.0 491.0,213.0 497.0,206.0 496.0,200.0 494.0,199.0 479.0,204.0 460.0,203.0 439.0,189.0 434.0,189.0 432.0,198.0 426.0,199.0 420.0,190.0 421.0,181.0 393.0,162.0" fill="none" stroke="#000" stroke-width="3" stroke-linejoin="round" stroke-linecap="round"/>
<polyline points="385.0,161.0 426.0,150.0 425.0,142.0 430.0,139.0 446.0,148.0 447.0,190.0" fill="none" stroke="#000" stroke-width="3" stroke-linejoin="round" stroke-linecap="round"/>
<line x1="391" y1="167" x2="419" y2="186" stroke="#000" stroke-width="1.2" stroke-linecap="butt"/>
<line x1="388" y1="165" x2="385" y2="161" stroke="#000" stroke-width="3" stroke-linecap="butt"/>
<line x1="393" y1="163" x2="440" y2="150" stroke="#000" stroke-width="1.2" stroke-linecap="butt"/>
<line x1="459" y1="208" x2="459" y2="276" stroke="#000" stroke-width="1.3" stroke-linecap="butt"/>
<line x1="479" y1="212" x2="480" y2="278" stroke="#000" stroke-width="1.3" stroke-linecap="butt"/>
<polygon points="278.6,394.2 278.0,465.3 341.4,508.6 358.0,509.6 379.6,501.4 380.0,493.1 377.5,488.0 379.0,478.0 377.5,464.3 381.0,444.7 377.5,441.6 361.0,447.8 349.7,446.8 332.2,435.4 282.0,402.0" fill="none" stroke="#000" stroke-width="3" stroke-linejoin="round" stroke-linecap="round"/>
<polyline points="278.6,394.2 316.7,376.6 317.7,366.3 331.1,373.6 331.1,436.0" fill="none" stroke="#000" stroke-width="3" stroke-linejoin="round" stroke-linecap="round"/>
<line x1="283" y1="397" x2="328" y2="377" stroke="#000" stroke-width="1.2" stroke-linecap="butt"/>
<line x1="283" y1="407" x2="330" y2="437" stroke="#000" stroke-width="1.2" stroke-linecap="butt"/>
<line x1="345.6" y1="453" x2="344" y2="507.6" stroke="#000" stroke-width="1.2" stroke-linecap="butt"/>
<line x1="360.5" y1="457" x2="359.5" y2="507.6" stroke="#000" stroke-width="1.2" stroke-linecap="butt"/>
<ellipse cx="310.5" cy="437.5" rx="4" ry="6" transform="rotate(-20 310.5 437.5)" fill="none" stroke="#000" stroke-width="2"/>
<ellipse cx="283.2" cy="490" rx="6" ry="9" transform="rotate(-10 283.2 490)" fill="none" stroke="#000" stroke-width="2.4"/>
<path d="M266,509 L276,501" fill="none" stroke="#000" stroke-width="5" stroke-linejoin="round" stroke-linecap="round"/>
<path d="M266,509 L276,501" fill="none" stroke="#000" stroke-width="2.5" stroke-linejoin="round" stroke-linecap="round"/>
<polyline points="518.8,126.9 692.5,225.0" fill="none" stroke="#000" stroke-width="2.2" stroke-linejoin="round" stroke-linecap="round"/>
<polyline points="518.8,126.9 521.0,124.0 537.0,130.6 626.3,176.9 725.6,137.5" fill="none" stroke="#000" stroke-width="3" stroke-linejoin="round" stroke-linecap="round"/>
<polyline points="530.0,137.5 691.0,225.0 698.8,219.4 726.3,232.5 768.8,255.6 873.1,208.8 878.8,211.9 876.3,338.8 767.5,390.0 713.1,418.8 700.0,425.3 688.8,428.1 611.9,382.2" fill="none" stroke="#000" stroke-width="3" stroke-linejoin="round" stroke-linecap="round"/>
<polyline points="529.4,136.9 528.0,327.8 546.3,340.0" fill="none" stroke="#000" stroke-width="3" stroke-linejoin="round" stroke-linecap="round"/>
<polyline points="725.6,137.5 726.3,231.9" fill="none" stroke="#000" stroke-width="3" stroke-linejoin="round" stroke-linecap="round"/>
<line x1="772" y1="259" x2="873" y2="214" stroke="#000" stroke-width="1.2" stroke-linecap="butt"/>
<line x1="692.5" y1="228" x2="690.6" y2="428" stroke="#000" stroke-width="1.3" stroke-dasharray="12,3"/>
<ellipse cx="641.9" cy="184.4" rx="4" ry="2" transform="rotate(-20 641.9 184.4)" fill="#000" stroke="#000" stroke-width="2"/>
<ellipse cx="707.5" cy="230" rx="5" ry="2.2" transform="rotate(25 707.5 230)" fill="#000" stroke="#000" stroke-width="2"/>
<ellipse cx="781.9" cy="261.9" rx="5" ry="2.5" transform="rotate(-20 781.9 261.9)" fill="#000" stroke="#000" stroke-width="2"/>
<ellipse cx="870.6" cy="226.3" rx="2.2" ry="4.5" transform="rotate(0 870.6 226.3)" fill="#000" stroke="#000" stroke-width="2"/>
<ellipse cx="870" cy="266.3" rx="2.2" ry="4.5" transform="rotate(0 870 266.3)" fill="#000" stroke="#000" stroke-width="2"/>
<ellipse cx="870" cy="303.1" rx="2.2" ry="4.5" transform="rotate(0 870 303.1)" fill="#000" stroke="#000" stroke-width="2"/>
<ellipse cx="725" cy="203" rx="2" ry="4" transform="rotate(0 725 203)" fill="#000" stroke="#000" stroke-width="2"/>
<ellipse cx="724" cy="264" rx="2" ry="4" transform="rotate(0 724 264)" fill="#000" stroke="#000" stroke-width="2"/>
<ellipse cx="665.6" cy="193.8" rx="7.5" ry="9" transform="rotate(25 665.6 193.8)" fill="#fff" stroke="#000" stroke-width="2.6"/>
<ellipse cx="667.1" cy="194.3" rx="4.65" ry="5.58" transform="rotate(25 667.1 194.3)" fill="none" stroke="#000" stroke-width="1.6"/>
<ellipse cx="668.1" cy="194.8" rx="2.625" ry="3.42" transform="rotate(25 668.1 194.8)" fill="none" stroke="#000" stroke-width="1.4"/>
<ellipse cx="766.3" cy="241.3" rx="7.5" ry="9" transform="rotate(25 766.3 241.3)" fill="#fff" stroke="#000" stroke-width="2.6"/>
<ellipse cx="767.8" cy="241.8" rx="4.65" ry="5.58" transform="rotate(25 767.8 241.8)" fill="none" stroke="#000" stroke-width="1.6"/>
<ellipse cx="768.8" cy="242.3" rx="2.625" ry="3.42" transform="rotate(25 768.8 242.3)" fill="none" stroke="#000" stroke-width="1.4"/>
<polygon points="540.6,236.3 585.0,216.9 628.1,247.5 628.8,249.4 583.8,268.1 540.6,238.8" fill="none" stroke="#000" stroke-width="3" stroke-linejoin="round" stroke-linecap="round"/>
<line x1="541" y1="238.5" x2="584" y2="265" stroke="#000" stroke-width="1.2" stroke-linecap="butt"/>
<line x1="584" y1="265" x2="628" y2="247.5" stroke="#000" stroke-width="1.2" stroke-linecap="butt"/>
<ellipse cx="583.8" cy="241.9" rx="13" ry="7.5" transform="rotate(0 583.8 241.9)" fill="none" stroke="#000" stroke-width="2.6"/>
<ellipse cx="583.8" cy="240.5" rx="8" ry="4.2" transform="rotate(0 583.8 240.5)" fill="none" stroke="#000" stroke-width="2"/>
<path d="M570.6,340 C548,342 534,352 537,362 C541,376 566,383 590,382 C606,381 616,378 622.2,373.8 L570.6,340 Z" fill="#fff" stroke="#000" stroke-width="2.8" stroke-linejoin="round" stroke-linecap="round"/>
<path d="M538,366 C545,377 570,380 590,379 C604,378 614,375 621,371" fill="none" stroke="#000" stroke-width="1.2" stroke-linejoin="round" stroke-linecap="round"/>
<ellipse cx="577.2" cy="359.7" rx="12" ry="7" transform="rotate(0 577.2 359.7)" fill="none" stroke="#000" stroke-width="2.4"/>
<ellipse cx="577.2" cy="358.5" rx="7" ry="3.8" transform="rotate(0 577.2 358.5)" fill="none" stroke="#000" stroke-width="1.8"/>
<polygon points="611.9,314.7 647.5,299.7 650.3,302.5 649.4,339.1 615.6,346.6 612.8,343.8" fill="#fff" stroke="#000" stroke-width="3" stroke-linejoin="round" stroke-linecap="round"/>
<line x1="615" y1="318" x2="649" y2="303" stroke="#000" stroke-width="1.2" stroke-linecap="butt"/>
<line x1="615.6" y1="318" x2="615.6" y2="346" stroke="#000" stroke-width="1.2" stroke-linecap="butt"/>
<path d="M633.0,329.8 L672.0,349.8 A3.9,6.5 27.1 0 0 678.0,338.2 L639.0,318.2 A3.9,6.5 27.1 0 0 633.0,329.8 Z" stroke="#000" stroke-width="2.6" fill="#fff" stroke-linejoin="round"/>
<ellipse cx="675" cy="344" rx="3.9" ry="6.5" transform="rotate(27.14968169778317 675 344)" fill="none" stroke="#000" stroke-width="1.6"/>
<polygon points="660.6,340.0 694.4,326.9 697.2,329.7 696.3,370.0 662.0,373.0 660.6,371.9" fill="#fff" stroke="#000" stroke-width="3" stroke-linejoin="round" stroke-linecap="round"/>
<line x1="664" y1="343" x2="696" y2="330" stroke="#000" stroke-width="1.2" stroke-linecap="butt"/>
<line x1="664" y1="343" x2="664" y2="372" stroke="#000" stroke-width="1.2" stroke-linecap="butt"/>
<path d="M677.4,355.4 L710.4,377.4 A3.9,6.5 33.7 0 0 717.6,366.6 L684.6,344.6 A3.9,6.5 33.7 0 0 677.4,355.4 Z" stroke="#000" stroke-width="2.6" fill="#fff" stroke-linejoin="round"/>
<ellipse cx="714" cy="372" rx="3.9" ry="6.5" transform="rotate(33.690067525979785 714 372)" fill="none" stroke="#000" stroke-width="1.6"/>
<path d="M594.4,307.4 L603.4,313.4 L610.6,302.6 L601.6,296.6 A3.6,6.5 33.7 0 0 594.4,307.4 Z" stroke="#000" stroke-width="2.6" fill="#fff" stroke-linejoin="round"/>
<ellipse cx="607" cy="308" rx="3.575" ry="6.5" transform="rotate(33.690067525979785 607 308)" fill="#fff" stroke="#000" stroke-width="2.6"/>
<ellipse cx="607" cy="308" rx="1.95" ry="3.9" transform="rotate(33.690067525979785 607 308)" fill="none" stroke="#000" stroke-width="1.5"/>
<path d="M720.4,384.4 L729.4,390.4 L736.6,379.6 L727.6,373.6 A3.6,6.5 33.7 0 0 720.4,384.4 Z" stroke="#000" stroke-width="2.6" fill="#fff" stroke-linejoin="round"/>
<ellipse cx="733" cy="385" rx="3.575" ry="6.5" transform="rotate(33.690067525979785 733 385)" fill="#fff" stroke="#000" stroke-width="2.6"/>
<ellipse cx="733" cy="385" rx="1.95" ry="3.9" transform="rotate(33.690067525979785 733 385)" fill="none" stroke="#000" stroke-width="1.5"/>
<path d="M730.1,403.0 L788.2,439.0 A2.1,3.5 31.8 0 0 791.8,433.0 L733.7,397.0 A2.1,3.5 31.8 0 0 730.1,403.0 Z" stroke="#000" stroke-width="2.4" fill="#fff" stroke-linejoin="round"/>
<polygon points="786.0,431.0 791.0,440.0 799.4,441.3 798.0,446.0 790.0,446.0 786.0,450.0 782.0,449.0 786.0,442.0" fill="none" stroke="#000" stroke-width="2.2" stroke-linejoin="round" stroke-linecap="round"/>
<polygon points="743.8,268.1 771.3,277.5 741.3,348.8 721.3,345.0 703.1,333.8 711.9,314.4 721.3,316.3" fill="#fff" stroke="#000" stroke-width="3" stroke-linejoin="round" stroke-linecap="round"/>
<line x1="756" y1="272" x2="722" y2="345" stroke="#000" stroke-width="1.2" stroke-linecap="butt"/>
<path d="M758.8,282.5 L733.1,340" fill="none" stroke="#000" stroke-width="6" stroke-linejoin="round" stroke-linecap="round"/>
<path d="M758.8,282.5 L733.1,340" fill="none" stroke="#000" stroke-width="2.5" stroke-linejoin="round" stroke-linecap="round"/>
<line x1="758.8" y1="282.5" x2="733.1" y2="340" stroke="#fff" stroke-width="2.2"/>
<ellipse cx="795.6" cy="348.1" rx="8" ry="12" transform="rotate(20 795.6 348.1)" fill="none" stroke="#000" stroke-width="2.6"/>
<ellipse cx="797" cy="348.1" rx="5.5" ry="10" transform="rotate(20 797 348.1)" fill="none" stroke="#000" stroke-width="1.5"/>
<ellipse cx="796.9" cy="331.3" rx="1.8" ry="1.8" transform="rotate(0 796.9 331.3)" fill="#000" stroke="#000" stroke-width="1.5"/>
<ellipse cx="810" cy="351.3" rx="2" ry="2" transform="rotate(0 810 351.3)" fill="none" stroke="#000" stroke-width="1.5"/>
<ellipse cx="783.8" cy="360.6" rx="2" ry="2" transform="rotate(0 783.8 360.6)" fill="none" stroke="#000" stroke-width="1.5"/>
<polyline points="388.8,416.3 546.3,528.8 560.0,528.8 567.5,523.8 566.7,412.5 565.0,411.3 505.0,437.5" fill="none" stroke="#000" stroke-width="3" stroke-linejoin="round" stroke-linecap="round"/>
<polyline points="388.8,414.4 402.5,411.9 410.0,414.0" fill="none" stroke="#000" stroke-width="3" stroke-linejoin="round" stroke-linecap="round"/>
<polyline points="410.0,410.0 480.0,448.8 501.3,438.8" fill="none" stroke="#000" stroke-width="3" stroke-linejoin="round" stroke-linecap="round"/>
<line x1="410" y1="410" x2="555" y2="522.5" stroke="#000" stroke-width="2.8" stroke-linecap="butt"/>
<line x1="405" y1="431.3" x2="545" y2="526.3" stroke="#000" stroke-width="1.3" stroke-linecap="butt"/>
<line x1="395" y1="418" x2="402" y2="412" stroke="#000" stroke-width="2.5" stroke-linecap="butt"/>
<ellipse cx="448" cy="449" rx="2" ry="1.5" transform="rotate(30 448 449)" fill="#000" stroke="#000" stroke-width="2"/>
<ellipse cx="515" cy="505" rx="2" ry="1.5" transform="rotate(30 515 505)" fill="none" stroke="#000" stroke-width="1.5"/>
<polyline points="403.1,428.8 401.0,622.5 438.5,647.2" fill="none" stroke="#000" stroke-width="3" stroke-linejoin="round" stroke-linecap="round"/>
<polygon points="430.0,508.8 470.0,488.1 506.9,514.4 503.8,516.9 466.3,535.6 430.0,510.0" fill="#fff" stroke="#000" stroke-width="3" stroke-linejoin="round" stroke-linecap="round"/>
<line x1="432" y1="511" x2="466" y2="532" stroke="#000" stroke-width="1.2" stroke-linecap="butt"/>
<line x1="466" y1="532" x2="504" y2="515" stroke="#000" stroke-width="1.2" stroke-linecap="butt"/>
<ellipse cx="466.9" cy="510" rx="9.5" ry="5" transform="rotate(0 466.9 510)" fill="none" stroke="#000" stroke-width="2.4"/>
<ellipse cx="508.8" cy="455" rx="8.5" ry="10" transform="rotate(25 508.8 455)" fill="#fff" stroke="#000" stroke-width="2.6"/>
<ellipse cx="510.3" cy="455.5" rx="5.27" ry="6.2" transform="rotate(25 510.3 455.5)" fill="none" stroke="#000" stroke-width="1.6"/>
<ellipse cx="511.3" cy="456" rx="2.9749999999999996" ry="3.8" transform="rotate(25 511.3 456)" fill="none" stroke="#000" stroke-width="1.4"/>
<polyline points="467.0,541.5 465.5,558.0 415.0,582.0" fill="none" stroke="#000" stroke-width="1.8" stroke-linejoin="miter"/>
<line x1="561.3" y1="535" x2="561.3" y2="546.3" stroke="#000" stroke-width="1.5"/>
<polyline points="438.5,648.7 443.0,648.0 455.0,656.0" fill="none" stroke="#000" stroke-width="3" stroke-linejoin="round" stroke-linecap="round"/>
<polyline points="438.5,648.7 409.3,661.5 409.3,663.0 455.0,700.5" fill="none" stroke="#000" stroke-width="3" stroke-linejoin="round" stroke-linecap="round"/>
<line x1="411" y1="664" x2="455" y2="697" stroke="#000" stroke-width="1.2" stroke-linecap="butt"/>
<path d="M446,668 Q452,664 455,667" fill="none" stroke="#000" stroke-width="2" stroke-linejoin="round" stroke-linecap="round"/>
<polyline points="446.0,586.5 491.0,567.7 495.5,570.7 495.5,576.7" fill="none" stroke="#000" stroke-width="3" stroke-linejoin="round" stroke-linecap="round"/>
<polyline points="446.0,586.5 447.5,589.5 449.7,633.7 455.0,634.5" fill="none" stroke="#000" stroke-width="3" stroke-linejoin="round" stroke-linecap="round"/>
<line x1="452" y1="592" x2="452" y2="632" stroke="#000" stroke-width="1.2" stroke-linecap="butt"/>
<polygon points="458.0,596.2 564.5,549.7 566.7,552.7 566.0,739.5 459.5,712.5" fill="#fff" stroke="#000" stroke-width="3" stroke-linejoin="round" stroke-linecap="round"/>
<line x1="462" y1="599" x2="564" y2="554" stroke="#000" stroke-width="1.2" stroke-linecap="butt"/>
<line x1="462" y1="599" x2="462" y2="710" stroke="#000" stroke-width="1.2" stroke-linecap="butt"/>
<ellipse cx="527" cy="645" rx="6" ry="9" transform="rotate(30 527 645)" fill="#fff" stroke="#000" stroke-width="2.4"/>
<path d="M519.6,651.7 L549.6,666.7 A4.5,7.5 26.6 0 0 556.4,653.3 L526.4,638.3 A4.5,7.5 26.6 0 0 519.6,651.7 Z" stroke="#000" stroke-width="2.6" fill="#fff" stroke-linejoin="round"/>
<ellipse cx="553" cy="660" rx="4.5" ry="7.5" transform="rotate(26.56505117707799 553 660)" fill="none" stroke="#000" stroke-width="1.6"/>
<ellipse cx="494.7" cy="660" rx="5.5" ry="8.5" transform="rotate(25 494.7 660)" fill="none" stroke="#000" stroke-width="2.4"/>
<ellipse cx="477.5" cy="657.7" rx="2" ry="1.2" transform="rotate(0 477.5 657.7)" fill="#000" stroke="#000" stroke-width="1.4"/>
<ellipse cx="479.7" cy="669" rx="2" ry="1.2" transform="rotate(0 479.7 669)" fill="#000" stroke="#000" stroke-width="1.4"/>
<polyline points="566.7,521.9 600.3,537.5" fill="none" stroke="#000" stroke-width="3" stroke-linejoin="round" stroke-linecap="round"/>
<polyline points="626.1,551.6 648.8,563.3 740.2,515.6 744.1,518.8 742.5,643.8 562.8,739.1" fill="none" stroke="#000" stroke-width="3" stroke-linejoin="round" stroke-linecap="round"/>
<line x1="651" y1="567" x2="741" y2="520" stroke="#000" stroke-width="1.2" stroke-linecap="butt"/>
<line x1="566" y1="552" x2="565" y2="737" stroke="#000" stroke-width="2" stroke-dasharray="60,4"/>
<ellipse cx="650.3" cy="546.9" rx="7.5" ry="9" transform="rotate(25 650.3 546.9)" fill="#fff" stroke="#000" stroke-width="2.6"/>
<ellipse cx="651.8" cy="547.4" rx="4.65" ry="5.58" transform="rotate(25 651.8 547.4)" fill="none" stroke="#000" stroke-width="1.6"/>
<ellipse cx="652.8" cy="547.9" rx="2.625" ry="3.42" transform="rotate(25 652.8 547.9)" fill="none" stroke="#000" stroke-width="1.4"/>
<polygon points="600.3,539.8 612.0,539.0 623.0,546.1 601.9,616.4 583.9,618.8 570.6,609.4 578.4,589.1 584.7,590.6" fill="#fff" stroke="#000" stroke-width="3" stroke-linejoin="round" stroke-linecap="round"/>
<line x1="612" y1="542" x2="588" y2="617" stroke="#000" stroke-width="1.2" stroke-linecap="butt"/>
<path d="M608.1,562.5 L597.2,601.6" fill="none" stroke="#000" stroke-width="5.5" stroke-linejoin="round" stroke-linecap="round"/>
<line x1="608.1" y1="562.5" x2="597.2" y2="601.6" stroke="#fff" stroke-width="1.8"/>
<polygon points="683.9,640.6 698.8,634.4 717.5,625.0 720.6,650.0 712.8,657.8 684.7,654.7" fill="#fff" stroke="#000" stroke-width="2.8" stroke-linejoin="round" stroke-linecap="round"/>
<ellipse cx="699" cy="637" rx="6" ry="4" transform="rotate(-10 699 637)" fill="#fff" stroke="#000" stroke-width="2.2"/>
<ellipse cx="711" cy="652" rx="5" ry="5.5" transform="rotate(20 711 652)" fill="#fff" stroke="#000" stroke-width="2.4"/>
<ellipse cx="712" cy="652.5" rx="2.8" ry="3.2" transform="rotate(20 712 652.5)" fill="none" stroke="#000" stroke-width="1.6"/>
<path d="M558.8,674.6 L566.8,680.6 L575.2,669.4 L567.2,663.4 A3.9,7.0 36.9 0 0 558.8,674.6 Z" stroke="#000" stroke-width="2.6" fill="#fff" stroke-linejoin="round"/>
<ellipse cx="571" cy="675" rx="3.8500000000000005" ry="7" transform="rotate(36.86989764584402 571 675)" fill="#fff" stroke="#000" stroke-width="2.6"/>
<ellipse cx="571" cy="675" rx="2.1" ry="4.2" transform="rotate(36.86989764584402 571 675)" fill="none" stroke="#000" stroke-width="1.5"/>
<path d="M722.8,667.6 L730.8,673.6 L739.2,662.4 L731.2,656.4 A3.9,7.0 36.9 0 0 722.8,667.6 Z" stroke="#000" stroke-width="2.6" fill="#fff" stroke-linejoin="round"/>
<ellipse cx="735" cy="668" rx="3.8500000000000005" ry="7" transform="rotate(36.86989764584402 735 668)" fill="#fff" stroke="#000" stroke-width="2.6"/>
<ellipse cx="735" cy="668" rx="2.1" ry="4.2" transform="rotate(36.86989764584402 735 668)" fill="none" stroke="#000" stroke-width="1.5"/>
<polyline points="843.1,401.9 909.7,367.2 911.6,368.1 905.0,398.1" fill="none" stroke="#000" stroke-width="3" stroke-linejoin="round" stroke-linecap="round"/>
<polyline points="843.1,401.9 876.9,422.5 882.5,424.4 890.0,420.0" fill="none" stroke="#000" stroke-width="3" stroke-linejoin="round" stroke-linecap="round"/>
<line x1="846" y1="403" x2="908" y2="371" stroke="#000" stroke-width="1.2" stroke-linecap="butt"/>
<ellipse cx="861.9" cy="404.7" rx="1.8" ry="1.8" transform="rotate(0 861.9 404.7)" fill="#000" stroke="#000" stroke-width="1.5"/>
<ellipse cx="900.3" cy="383.1" rx="1.8" ry="1.8" transform="rotate(0 900.3 383.1)" fill="#000" stroke="#000" stroke-width="1.5"/>
<path d="M877.3,411.0 L889.8,419.4 L903.2,399.4 L890.7,391.0 A6.6,12.0 33.9 0 0 877.3,411.0 Z" stroke="#000" stroke-width="2.8" fill="#fff" stroke-linejoin="round"/>
<ellipse cx="896.5" cy="409.4" rx="6.6000000000000005" ry="12" transform="rotate(33.90110075035759 896.5 409.4)" fill="#fff" stroke="#000" stroke-width="2.8"/>
<ellipse cx="896.5" cy="409.4" rx="3.5999999999999996" ry="7.199999999999999" transform="rotate(33.90110075035759 896.5 409.4)" fill="none" stroke="#000" stroke-width="1.5"/>
<path d="M906.5,427.5 L921.0,435.8 L932.0,416.8 L917.5,408.5 A6.1,11.0 29.8 0 0 906.5,427.5 Z" stroke="#000" stroke-width="2.8" fill="#fff" stroke-linejoin="round"/>
<ellipse cx="926.5" cy="426.3" rx="6.050000000000001" ry="11" transform="rotate(29.78741713137954 926.5 426.3)" fill="#fff" stroke="#000" stroke-width="2.8"/>
<ellipse cx="926.5" cy="426.3" rx="3.3" ry="6.6" transform="rotate(29.78741713137954 926.5 426.3)" fill="none" stroke="#000" stroke-width="1.5"/>
<path d="M935.1,438.7 L1007.3,483.7 A4.2,7.0 31.9 0 0 1014.7,471.9 L942.5,426.9 A4.2,7.0 31.9 0 0 935.1,438.7 Z" stroke="#000" stroke-width="2.6" fill="#fff" stroke-linejoin="round"/>
<path d="M1029.9,495.1 L1114.3,543.9 A4.2,7.0 30.0 0 0 1121.3,531.7 L1036.9,482.9 A4.2,7.0 30.0 0 0 1029.9,495.1 Z" stroke="#000" stroke-width="2.6" fill="#fff" stroke-linejoin="round"/>
<ellipse cx="1117.8" cy="537.8" rx="4.2" ry="7" transform="rotate(30.03646035493479 1117.8 537.8)" fill="none" stroke="#000" stroke-width="1.6"/>
<rect x="1088" y="510" width="10" height="3.5" transform="rotate(30 1088 510)" fill="none" stroke="#000" stroke-width="1.6"/>
<rect x="1100" y="519" width="10" height="3.5" transform="rotate(30 1100 519)" fill="none" stroke="#000" stroke-width="1.6"/>
<polygon points="965.9,169.1 1139.4,97.8 1168.4,110.9 1169.4,113.8 1170.3,120.3 1166.6,121.3 1167.5,141.9 1170.3,142.8 1166.6,144.7 1166.6,168.1 1169.4,169.1 1165.6,171.9 1165.6,196.3 1169.4,197.2 1164.7,199.1 1163.8,226.3 1167.5,228.1 1162.8,229.1 1160.9,263.8 989.4,234.7 965.9,219.7 965.9,215.0 970.6,215.0 970.6,205.0 965.9,203.8" fill="none" stroke="#000" stroke-width="3.2" stroke-linejoin="round" stroke-linecap="round"/>
<polyline points="968.8,171.9 989.4,183.1 1165.6,114.7" fill="none" stroke="#000" stroke-width="1.4" stroke-dasharray="30,3"/>
<line x1="989.4" y1="183.1" x2="989.4" y2="234.7" stroke="#000" stroke-width="1.6" stroke-linecap="butt"/>
<line x1="1180.6" y1="117.5" x2="1176.9" y2="262.8" stroke="#000" stroke-width="6" stroke-linecap="round"/>
<line x1="1180" y1="122" x2="1177.5" y2="258" stroke="#fff" stroke-width="1.2" stroke-dasharray="6,4"/>
<polygon points="1188.0,114.7 1201.3,112.8 1206.0,116.6 1206.9,246.9 1189.1,248.8 1187.5,235.0 1190.0,230.0 1190.0,212.0 1187.0,208.0 1187.5,180.0 1190.0,175.0 1190.0,150.0 1186.5,146.0 1187.0,130.0 1190.0,127.0 1188.0,114.7" fill="none" stroke="#000" stroke-width="2.6" stroke-linejoin="round" stroke-linecap="round"/>
<line x1="1201" y1="118" x2="1202" y2="244" stroke="#000" stroke-width="1.2" stroke-linecap="butt"/>
<ellipse cx="1199" cy="119.5" rx="1.5" ry="2.5" transform="rotate(0 1199 119.5)" fill="none" stroke="#000" stroke-width="1.3"/>
<ellipse cx="1199" cy="240" rx="1.5" ry="2.5" transform="rotate(0 1199 240)" fill="none" stroke="#000" stroke-width="1.3"/>
<polygon points="930.3,176.0 940.0,173.8 943.4,176.0 943.4,195.0 933.0,197.2 930.3,195.0" fill="none" stroke="#000" stroke-width="2.6" stroke-linejoin="round" stroke-linecap="round"/>
<path d="M937,180 L941,184 L936,190 M935,193 Q938,195 941,192" fill="none" stroke="#000" stroke-width="1.6" stroke-linejoin="round" stroke-linecap="round"/>
<ellipse cx="935.9" cy="212.2" rx="7" ry="8" transform="rotate(0 935.9 212.2)" fill="none" stroke="#000" stroke-width="2.6"/>
<polygon points="941.0,208.0 948.0,207.0 950.0,211.0 942.0,214.0" fill="none" stroke="#000" stroke-width="2.4" stroke-linejoin="round" stroke-linecap="round"/>
<ellipse cx="935" cy="214" rx="2.5" ry="3" transform="rotate(0 935 214)" fill="#000" stroke="#000" stroke-width="1.5"/>
<polygon points="1182.0,372.0 1189.5,369.7 1197.7,366.7 1201.5,369.0 1202.2,405.0 1220.2,411.7 1222.5,414.0 1221.7,428.3 1205.2,433.5 1201.5,430.5 1186.5,411.0 1182.0,390.0" fill="#fff" stroke="#000" stroke-width="2.8" stroke-linejoin="round" stroke-linecap="round"/>
<line x1="1191" y1="372" x2="1191" y2="393" stroke="#000" stroke-width="3.5" stroke-linecap="butt"/>
<ellipse cx="1200" cy="409.5" rx="3" ry="2" transform="rotate(-20 1200 409.5)" fill="none" stroke="#000" stroke-width="1.8"/>
<line x1="1185" y1="374" x2="1186" y2="410" stroke="#000" stroke-width="1.2" stroke-linecap="butt"/>
<line x1="1203" y1="418" x2="1203" y2="432" stroke="#000" stroke-width="1.2" stroke-linecap="butt"/>
<line x1="1203" y1="418" x2="1220" y2="413" stroke="#000" stroke-width="1.2" stroke-linecap="butt"/>
<ellipse cx="1210" cy="424" rx="1.3" ry="1.3" transform="rotate(0 1210 424)" fill="#000" stroke="#000" stroke-width="1.3"/>
<ellipse cx="1215" cy="423" rx="1.3" ry="1.3" transform="rotate(0 1215 423)" fill="#000" stroke="#000" stroke-width="1.3"/>
<line x1="1197" y1="367" x2="1196" y2="360" stroke="#000" stroke-width="1.5" stroke-linecap="butt"/>
<polygon points="1328.2,313.5 1338.0,311.2 1348.5,309.7 1349.2,348.0 1365.0,357.0 1367.2,359.2 1366.5,372.0 1351.5,380.2 1345.5,378.0 1329.0,349.5" fill="#fff" stroke="#000" stroke-width="2.8" stroke-linejoin="round" stroke-linecap="round"/>
<line x1="1335.7" y1="316" x2="1335.7" y2="335" stroke="#000" stroke-width="3.5" stroke-linecap="butt"/>
<ellipse cx="1344" cy="354" rx="3" ry="2" transform="rotate(-20 1344 354)" fill="none" stroke="#000" stroke-width="1.8"/>
<line x1="1331" y1="316" x2="1331" y2="349" stroke="#000" stroke-width="1.2" stroke-linecap="butt"/>
<line x1="1350" y1="365" x2="1350" y2="379" stroke="#000" stroke-width="1.2" stroke-linecap="butt"/>
<line x1="1350" y1="365" x2="1366" y2="360" stroke="#000" stroke-width="1.2" stroke-linecap="butt"/>
<ellipse cx="1356" cy="368" rx="1.3" ry="1.3" transform="rotate(0 1356 368)" fill="#000" stroke="#000" stroke-width="1.3"/>
<ellipse cx="1362" cy="366" rx="1.6" ry="1.6" transform="rotate(0 1362 366)" fill="none" stroke="#000" stroke-width="1.3"/>
<polygon points="1217.2,391.5 1262.2,374.2 1265.0,377.0 1268.2,379.5 1272.0,383.0 1277.2,386.2 1278.0,398.2 1230.7,418.5 1217.2,395.2" fill="#fff" stroke="#000" stroke-width="2.8" stroke-linejoin="round" stroke-linecap="round"/>
<line x1="1219" y1="395" x2="1276" y2="387" stroke="#000" stroke-width="0.01" stroke-linecap="butt"/>
<line x1="1219" y1="396" x2="1231" y2="414" stroke="#000" stroke-width="1.2" stroke-linecap="butt"/>
<line x1="1231" y1="414" x2="1277" y2="395" stroke="#000" stroke-width="1.2" stroke-linecap="butt"/>
<ellipse cx="1228.5" cy="402" rx="1.5" ry="1.5" transform="rotate(0 1228.5 402)" fill="none" stroke="#000" stroke-width="1.3"/>
<polygon points="1270.5,370.5 1318.5,352.5 1332.7,373.5 1332.0,378.0 1288.5,396.7 1282.0,390.0 1278.0,388.5 1274.0,380.0 1270.5,373.5" fill="#fff" stroke="#000" stroke-width="2.8" stroke-linejoin="round" stroke-linecap="round"/>
<line x1="1276" y1="378" x2="1289" y2="393" stroke="#000" stroke-width="1.2" stroke-linecap="butt"/>
<line x1="1289" y1="393" x2="1331" y2="375" stroke="#000" stroke-width="1.2" stroke-linecap="butt"/>
<ellipse cx="1321.5" cy="366" rx="1.5" ry="1.5" transform="rotate(0 1321.5 366)" fill="none" stroke="#000" stroke-width="1.3"/>
<polyline points="1196.5,466.1 1196.5,519.3 1220.2,533.7 1401.4,563.9" fill="none" stroke="#000" stroke-width="3.2" stroke-linejoin="round" stroke-linecap="round"/>
<polyline points="1220.2,533.7 1220.2,484.8 1196.5,469.0" fill="none" stroke="#000" stroke-width="1.6" stroke-linejoin="round" stroke-linecap="round"/>
<polygon points="1196.5,466.1 1214.5,458.2 1239.7,473.3 1221.7,481.9 1196.5,466.1" fill="#fff" stroke="#000" stroke-width="3" stroke-linejoin="round" stroke-linecap="round"/>
<line x1="1198" y1="468" x2="1221" y2="483" stroke="#000" stroke-width="4" stroke-linecap="butt"/>
<line x1="1239" y1="473" x2="1245" y2="470" stroke="#000" stroke-width="2.6" stroke-linecap="butt"/>
<line x1="1236" y1="467.6" x2="1244" y2="464" stroke="#000" stroke-width="2.4" stroke-linecap="butt"/>
<line x1="1274" y1="458" x2="1358.2" y2="420.1" stroke="#000" stroke-width="3" stroke-linecap="butt"/>
<line x1="1221.7" y1="483.4" x2="1392.7" y2="420.8" stroke="#000" stroke-width="1.5" stroke-dasharray="40,3"/>
<line x1="1392.7" y1="420.8" x2="1391.3" y2="559.6" stroke="#000" stroke-width="2.4" stroke-linecap="butt"/>
<polygon points="1244.0,454.6 1256.2,450.3 1270.6,456.1 1274.2,459.7 1259.8,466.1 1244.0,457.0" fill="#fff" stroke="#000" stroke-width="2.4" stroke-linejoin="round" stroke-linecap="round"/>
<path d="M1256,458 Q1260,455 1264,458 L1262,462" fill="none" stroke="#000" stroke-width="1.5" stroke-linejoin="round" stroke-linecap="round"/>
<polygon points="1354.6,413.7 1368.3,407.9 1384.1,415.8 1385.5,418.7 1372.6,425.2 1354.6,416.0" fill="#fff" stroke="#000" stroke-width="2.4" stroke-linejoin="round" stroke-linecap="round"/>
<path d="M1366,416 Q1370,413 1374,416 L1372,420" fill="none" stroke="#000" stroke-width="1.5" stroke-linejoin="round" stroke-linecap="round"/>
<line x1="1385" y1="419" x2="1392" y2="421" stroke="#000" stroke-width="3" stroke-linecap="butt"/>
<path d="M1209.7,733.7 L1270.1,695.2 A3.0,5.0 -32.5 0 0 1264.7,686.8 L1204.3,725.3 A3.0,5.0 -32.5 0 0 1209.7,733.7 Z" stroke="#000" stroke-width="2.6" fill="#fff" stroke-linejoin="round"/>
<line x1="1213" y1="728" x2="1262" y2="697" stroke="#000" stroke-width="1.2" stroke-linecap="butt"/>
<ellipse cx="1159.6" cy="693.4" rx="24" ry="29" transform="rotate(25 1159.6 693.4)" fill="#fff" stroke="#000" stroke-width="2.8"/>
<ellipse cx="1161.0" cy="694.1" rx="24" ry="29" transform="rotate(25 1161.0 694.1)" fill="none" stroke="#000" stroke-width="1.4"/>
<ellipse cx="1162.1999999999998" cy="694.6999999999999" rx="24" ry="29" transform="rotate(25 1162.1999999999998 694.6999999999999)" fill="#fff" stroke="#000" stroke-width="1.4"/>
<ellipse cx="1163.6" cy="695.4" rx="24" ry="29" transform="rotate(25 1163.6 695.4)" fill="#fff" stroke="#000" stroke-width="2.8"/>
<ellipse cx="1163.6" cy="695.4" rx="19.68" ry="23.779999999999998" transform="rotate(25 1163.6 695.4)" fill="none" stroke="#000" stroke-width="1.3" stroke-dasharray="18,14"/>
<ellipse cx="1173.8" cy="700.6" rx="6" ry="7.5" transform="rotate(25 1173.8 700.6)" fill="none" stroke="#000" stroke-width="2.2"/>
<ellipse cx="1174.8" cy="701.6" rx="3.9000000000000004" ry="4.875" transform="rotate(25 1174.8 701.6)" fill="none" stroke="#000" stroke-width="1.6"/>
<ellipse cx="1295.1" cy="687.3" rx="26" ry="31" transform="rotate(25 1295.1 687.3)" fill="#fff" stroke="#000" stroke-width="2.8"/>
<ellipse cx="1296.85" cy="688.0" rx="26" ry="31" transform="rotate(25 1296.85 688.0)" fill="none" stroke="#000" stroke-width="1.4"/>
<ellipse cx="1298.35" cy="688.5999999999999" rx="26" ry="31" transform="rotate(25 1298.35 688.5999999999999)" fill="#fff" stroke="#000" stroke-width="1.4"/>
<ellipse cx="1300.1" cy="689.3" rx="26" ry="31" transform="rotate(25 1300.1 689.3)" fill="#fff" stroke="#000" stroke-width="2.8"/>
<ellipse cx="1300.1" cy="689.3" rx="21.32" ry="25.419999999999998" transform="rotate(25 1300.1 689.3)" fill="none" stroke="#000" stroke-width="1.3" stroke-dasharray="18,14"/>
<ellipse cx="1308.5" cy="692.8" rx="10" ry="12" transform="rotate(25 1308.5 692.8)" fill="none" stroke="#000" stroke-width="2.2"/>
<ellipse cx="1309.5" cy="693.8" rx="6.5" ry="7.800000000000001" transform="rotate(25 1309.5 693.8)" fill="none" stroke="#000" stroke-width="1.6"/>
<polygon points="1374.3,656.8 1373.2,658.9 1368.4,658.3 1367.3,659.9 1369.3,664.7 1367.7,666.4 1363.6,664.1 1362.2,665.3 1362.6,670.8 1360.7,672.0 1357.6,668.2 1356.0,668.9 1354.8,674.5 1352.8,675.0 1351.0,670.1 1349.4,670.3 1346.8,675.5 1344.9,675.3 1344.6,669.8 1343.1,669.3 1339.3,673.6 1337.6,672.7 1338.9,667.1 1337.6,666.1 1333.1,669.0 1331.8,667.5 1334.4,662.4 1333.6,661.0 1328.6,662.3 1327.9,660.3 1331.7,656.1 1331.3,654.4 1326.5,654.0 1326.4,651.7 1331.0,648.9 1331.1,647.1 1326.9,644.9 1327.4,642.6 1332.3,641.5 1333.0,639.7 1329.7,636.0 1330.8,633.9 1335.6,634.5 1336.7,632.9 1334.7,628.1 1336.3,626.4 1340.4,628.7 1341.8,627.5 1341.4,622.0 1343.3,620.8 1346.4,624.6 1348.0,623.9 1349.2,618.3 1351.2,617.8 1353.0,622.7 1354.6,622.5 1357.2,617.3 1359.1,617.5 1359.4,623.0 1360.9,623.5 1364.7,619.2 1366.4,620.1 1365.1,625.7 1366.4,626.7 1370.9,623.8 1372.2,625.3 1369.6,630.4 1370.4,631.8 1375.4,630.5 1376.1,632.5 1372.3,636.7 1372.7,638.4 1377.5,638.8 1377.6,641.1 1373.0,643.9 1372.9,645.7 1377.1,647.9 1376.6,650.2 1371.7,651.3 1371.0,653.1" fill="#fff" stroke="#000" stroke-width="2.2" stroke-linejoin="round" stroke-linecap="round"/>
<ellipse cx="1354" cy="647.4" rx="0.0" ry="0.0" transform="rotate(25 1354 647.4)" fill="none" stroke="#000" stroke-width="2.2"/>
<ellipse cx="1366.6" cy="653.1" rx="24.5" ry="29" transform="rotate(25 1366.6 653.1)" fill="#fff" stroke="#000" stroke-width="2.8"/>
<ellipse cx="1368.0" cy="653.8000000000001" rx="24.5" ry="29" transform="rotate(25 1368.0 653.8000000000001)" fill="none" stroke="#000" stroke-width="1.4"/>
<ellipse cx="1369.1999999999998" cy="654.4" rx="24.5" ry="29" transform="rotate(25 1369.1999999999998 654.4)" fill="#fff" stroke="#000" stroke-width="1.4"/>
<ellipse cx="1370.6" cy="655.1" rx="24.5" ry="29" transform="rotate(25 1370.6 655.1)" fill="#fff" stroke="#000" stroke-width="2.8"/>
<ellipse cx="1370.6" cy="655.1" rx="20.09" ry="23.779999999999998" transform="rotate(25 1370.6 655.1)" fill="none" stroke="#000" stroke-width="1.3" stroke-dasharray="18,14"/>
<ellipse cx="1372" cy="657" rx="9" ry="11" transform="rotate(25 1372 657)" fill="none" stroke="#000" stroke-width="2.2"/>
<ellipse cx="1373" cy="658" rx="5.8500000000000005" ry="7.15" transform="rotate(25 1373 658)" fill="none" stroke="#000" stroke-width="1.6"/>
<path d="M1365.2,660.4 L1379.2,666.4 A4.2,7.0 23.2 0 0 1384.8,653.6 L1370.8,647.6 A4.2,7.0 23.2 0 0 1365.2,660.4 Z" stroke="#000" stroke-width="2.4" fill="#fff" stroke-linejoin="round"/>
<ellipse cx="1382" cy="660" rx="4.2" ry="7" transform="rotate(23.19859051364819 1382 660)" fill="none" stroke="#000" stroke-width="1.6"/>
<ellipse cx="1352" cy="652" rx="1.8" ry="1.8" transform="rotate(0 1352 652)" fill="none" stroke="#000" stroke-width="1.3"/>
<ellipse cx="1366" cy="638" rx="1.5" ry="1.5" transform="rotate(0 1366 638)" fill="none" stroke="#000" stroke-width="1.3"/>
<ellipse cx="1084.3" cy="804.2" rx="47" ry="55" transform="rotate(25 1084.3 804.2)" fill="#fff" stroke="#000" stroke-width="2.8"/>
<ellipse cx="1086.75" cy="805.25" rx="47" ry="55" transform="rotate(25 1086.75 805.25)" fill="none" stroke="#000" stroke-width="1.4"/>
<ellipse cx="1088.85" cy="806.1500000000001" rx="47" ry="55" transform="rotate(25 1088.85 806.1500000000001)" fill="#fff" stroke="#000" stroke-width="1.4"/>
<ellipse cx="1091.3" cy="807.2" rx="47" ry="55" transform="rotate(25 1091.3 807.2)" fill="#fff" stroke="#000" stroke-width="2.8"/>
<ellipse cx="1091.3" cy="807.2" rx="38.54" ry="45.099999999999994" transform="rotate(25 1091.3 807.2)" fill="none" stroke="#000" stroke-width="1.3" stroke-dasharray="18,14"/>
<ellipse cx="1101" cy="811.2" rx="14" ry="17" transform="rotate(25 1101 811.2)" fill="none" stroke="#000" stroke-width="2.2"/>
<ellipse cx="1102" cy="812.2" rx="9.1" ry="11.05" transform="rotate(25 1102 812.2)" fill="none" stroke="#000" stroke-width="1.6"/>
<path d="M1097,806 Q1100,802 1104,806 L1106,816 L1100,818 Z" fill="none" stroke="#000" stroke-width="1.6" stroke-linejoin="round" stroke-linecap="round"/>
<ellipse cx="1002.7" cy="750.3" rx="11" ry="13" transform="rotate(30 1002.7 750.3)" fill="#fff" stroke="#000" stroke-width="2.8"/>
<ellipse cx="1004.2" cy="750.8" rx="6.82" ry="8.06" transform="rotate(30 1004.2 750.8)" fill="none" stroke="#000" stroke-width="1.6"/>
<ellipse cx="1005.2" cy="751.3" rx="3.8499999999999996" ry="4.94" transform="rotate(30 1005.2 751.3)" fill="none" stroke="#000" stroke-width="1.4"/>
<ellipse cx="1023.9" cy="763.3" rx="11" ry="13" transform="rotate(30 1023.9 763.3)" fill="#fff" stroke="#000" stroke-width="2.8"/>
<ellipse cx="1025.4" cy="763.8" rx="6.82" ry="8.06" transform="rotate(30 1025.4 763.8)" fill="none" stroke="#000" stroke-width="1.6"/>
<ellipse cx="1026.4" cy="764.3" rx="3.8499999999999996" ry="4.94" transform="rotate(30 1026.4 764.3)" fill="none" stroke="#000" stroke-width="1.4"/>
<ellipse cx="1045.8" cy="776.3" rx="11" ry="13" transform="rotate(30 1045.8 776.3)" fill="#fff" stroke="#000" stroke-width="2.8"/>
<ellipse cx="1047.3" cy="776.8" rx="6.82" ry="8.06" transform="rotate(30 1047.3 776.8)" fill="none" stroke="#000" stroke-width="1.6"/>
<ellipse cx="1048.3" cy="777.3" rx="3.8499999999999996" ry="4.94" transform="rotate(30 1048.3 777.3)" fill="none" stroke="#000" stroke-width="1.4"/>
<polygon points="1173.0,856.3 1171.9,858.6 1167.4,858.3 1166.1,859.9 1167.3,864.6 1165.5,866.3 1161.7,864.1 1160.0,865.2 1159.4,870.3 1157.2,871.1 1154.6,867.3 1152.8,867.7 1150.5,872.3 1148.3,872.3 1147.4,867.4 1145.6,867.0 1142.0,870.6 1140.1,869.5 1141.0,864.5 1139.6,863.3 1135.2,865.2 1133.9,863.4 1136.4,858.8 1135.6,857.1 1131.1,857.1 1130.5,854.7 1134.3,851.4 1134.3,849.4 1130.3,847.4 1130.6,844.9 1135.1,843.3 1135.8,841.3 1133.0,837.7 1134.1,835.4 1138.6,835.7 1139.9,834.1 1138.7,829.4 1140.5,827.7 1144.3,829.9 1146.0,828.8 1146.6,823.7 1148.8,822.9 1151.4,826.7 1153.2,826.3 1155.5,821.7 1157.7,821.7 1158.6,826.6 1160.4,827.0 1164.0,823.4 1165.9,824.5 1165.0,829.5 1166.4,830.7 1170.8,828.8 1172.1,830.6 1169.6,835.2 1170.4,836.9 1174.9,836.9 1175.5,839.3 1171.7,842.6 1171.7,844.6 1175.7,846.6 1175.4,849.1 1170.9,850.7 1170.2,852.7" fill="#fff" stroke="#000" stroke-width="2.2" stroke-linejoin="round" stroke-linecap="round"/>
<ellipse cx="1155" cy="848" rx="0.0" ry="0.0" transform="rotate(25 1155 848)" fill="none" stroke="#000" stroke-width="2.2"/>
<path d="M1145.1,858.3 L1158.3,865.2 L1172.1,838.6 L1158.9,831.7 A8.2,15.0 27.6 0 0 1145.1,858.3 Z" stroke="#000" stroke-width="2.4" fill="#fff" stroke-linejoin="round"/>
<ellipse cx="1165.2" cy="851.9" rx="8.25" ry="15" transform="rotate(27.59729586864356 1165.2 851.9)" fill="#fff" stroke="#000" stroke-width="2.4"/>
<ellipse cx="1165.2" cy="851.9" rx="4.5" ry="9.0" transform="rotate(27.59729586864356 1165.2 851.9)" fill="none" stroke="#000" stroke-width="1.5"/>
<ellipse cx="1185.6" cy="867.3" rx="10.5" ry="13" transform="rotate(30 1185.6 867.3)" fill="#fff" stroke="#000" stroke-width="2.8"/>
<ellipse cx="1187.1" cy="867.8" rx="6.51" ry="8.06" transform="rotate(30 1187.1 867.8)" fill="none" stroke="#000" stroke-width="1.6"/>
<ellipse cx="1188.1" cy="868.3" rx="3.675" ry="4.94" transform="rotate(30 1188.1 868.3)" fill="none" stroke="#000" stroke-width="1.4"/>
<ellipse cx="1207.5" cy="882" rx="10.5" ry="13" transform="rotate(30 1207.5 882)" fill="#fff" stroke="#000" stroke-width="2.8"/>
<ellipse cx="1209.0" cy="882.5" rx="6.51" ry="8.06" transform="rotate(30 1209.0 882.5)" fill="none" stroke="#000" stroke-width="1.6"/>
<ellipse cx="1210.0" cy="883" rx="3.675" ry="4.94" transform="rotate(30 1210.0 883)" fill="none" stroke="#000" stroke-width="1.4"/>
<polygon points="901.8,820.2 900.9,822.4 896.6,822.4 895.6,824.0 897.2,828.3 895.6,830.0 891.8,828.2 890.3,829.3 890.2,834.1 888.2,835.0 885.4,831.7 883.7,832.1 882.0,836.6 879.9,836.7 878.6,832.3 876.9,832.0 873.8,835.6 871.9,834.7 872.2,830.0 870.8,829.0 866.8,831.1 865.4,829.5 867.4,825.1 866.5,823.5 862.2,823.8 861.5,821.7 864.7,818.3 864.5,816.5 860.5,815.0 860.6,812.6 864.7,810.8 865.1,808.9 862.2,805.8 863.1,803.6 867.4,803.6 868.4,802.0 866.8,797.7 868.4,796.0 872.2,797.8 873.7,796.7 873.8,791.9 875.8,791.0 878.6,794.3 880.3,793.9 882.0,789.4 884.1,789.3 885.4,793.7 887.1,794.0 890.2,790.4 892.1,791.3 891.8,796.0 893.2,797.0 897.2,794.9 898.6,796.5 896.6,800.9 897.5,802.5 901.8,802.2 902.5,804.3 899.3,807.7 899.5,809.5 903.5,811.0 903.4,813.4 899.3,815.2 898.9,817.1" fill="#fff" stroke="#000" stroke-width="2.2" stroke-linejoin="round" stroke-linecap="round"/>
<ellipse cx="884" cy="814" rx="0.0" ry="0.0" transform="rotate(20 884 814)" fill="none" stroke="#000" stroke-width="2.2"/>
<ellipse cx="890" cy="819" rx="4.5" ry="6" transform="rotate(25 890 819)" fill="none" stroke="#000" stroke-width="2"/>
<ellipse cx="890.5" cy="819.5" rx="2.5" ry="3.5" transform="rotate(25 890.5 819.5)" fill="none" stroke="#000" stroke-width="1.4"/>
<path d="M949.5,862.1 L1023.5,820.1 A4.2,7.0 -29.6 0 0 1016.5,807.9 L942.5,849.9 A4.2,7.0 -29.6 0 0 949.5,862.1 Z" stroke="#000" stroke-width="2.6" fill="#fff" stroke-linejoin="round"/>
<line x1="952" y1="858" x2="1018" y2="820" stroke="#000" stroke-width="1.2" stroke-linecap="butt"/>
<polygon points="940.0,850.0 948.0,846.0 955.0,851.0 956.0,860.0 949.0,865.0 941.0,861.0" fill="#fff" stroke="#000" stroke-width="2.6" stroke-linejoin="round" stroke-linecap="round"/>
<ellipse cx="948" cy="857" rx="3" ry="3.5" transform="rotate(20 948 857)" fill="none" stroke="#000" stroke-width="1.8"/>
<path d="M684.3,829.0 L752.3,871.0 A4.2,7.0 31.7 0 0 759.7,859.0 L691.7,817.0 A4.2,7.0 31.7 0 0 684.3,829.0 Z" stroke="#000" stroke-width="2.6" fill="#fff" stroke-linejoin="round"/>
<ellipse cx="756" cy="865" rx="4.2" ry="7" transform="rotate(31.701429669505718 756 865)" fill="none" stroke="#000" stroke-width="1.6"/>
<line x1="717" y1="836" x2="711" y2="847" stroke="#000" stroke-width="1.5" stroke-linecap="butt"/>
<line x1="720" y1="838" x2="714" y2="849" stroke="#000" stroke-width="1.5" stroke-linecap="butt"/>
<rect x="735" y="848" width="9" height="3" transform="rotate(32 735 848)" fill="none" stroke="#000" stroke-width="1.5"/>
<ellipse cx="771" cy="875" rx="9" ry="11.5" transform="rotate(30 771 875)" fill="#fff" stroke="#000" stroke-width="2.8"/>
<ellipse cx="772.5" cy="875.5" rx="5.58" ry="7.13" transform="rotate(30 772.5 875.5)" fill="none" stroke="#000" stroke-width="1.6"/>
<ellipse cx="773.5" cy="876" rx="3.15" ry="4.37" transform="rotate(30 773.5 876)" fill="none" stroke="#000" stroke-width="1.4"/>
<ellipse cx="789" cy="886" rx="9" ry="11.5" transform="rotate(30 789 886)" fill="#fff" stroke="#000" stroke-width="2.8"/>
<ellipse cx="790.5" cy="886.5" rx="5.58" ry="7.13" transform="rotate(30 790.5 886.5)" fill="none" stroke="#000" stroke-width="1.6"/>
<ellipse cx="791.5" cy="887" rx="3.15" ry="4.37" transform="rotate(30 791.5 887)" fill="none" stroke="#000" stroke-width="1.4"/>
<ellipse cx="808" cy="900" rx="9" ry="11.5" transform="rotate(30 808 900)" fill="#fff" stroke="#000" stroke-width="2.8"/>
<ellipse cx="809.5" cy="900.5" rx="5.58" ry="7.13" transform="rotate(30 809.5 900.5)" fill="none" stroke="#000" stroke-width="1.6"/>
<ellipse cx="810.5" cy="901" rx="3.15" ry="4.37" transform="rotate(30 810.5 901)" fill="none" stroke="#000" stroke-width="1.4"/>
<ellipse cx="849" cy="928" rx="9" ry="11.5" transform="rotate(30 849 928)" fill="#fff" stroke="#000" stroke-width="2.8"/>
<ellipse cx="850.5" cy="928.5" rx="5.58" ry="7.13" transform="rotate(30 850.5 928.5)" fill="none" stroke="#000" stroke-width="1.6"/>
<ellipse cx="851.5" cy="929" rx="3.15" ry="4.37" transform="rotate(30 851.5 929)" fill="none" stroke="#000" stroke-width="1.4"/>
<ellipse cx="867" cy="939" rx="9" ry="11.5" transform="rotate(30 867 939)" fill="#fff" stroke="#000" stroke-width="2.8"/>
<ellipse cx="868.5" cy="939.5" rx="5.58" ry="7.13" transform="rotate(30 868.5 939.5)" fill="none" stroke="#000" stroke-width="1.6"/>
<ellipse cx="869.5" cy="940" rx="3.15" ry="4.37" transform="rotate(30 869.5 940)" fill="none" stroke="#000" stroke-width="1.4"/>
<path d="M822,917 A8,11 30 1 1 834,917" fill="none" stroke="#000" stroke-width="2.4" stroke-linejoin="round" stroke-linecap="round"/>
<ellipse cx="829" cy="912" rx="4" ry="6.5" transform="rotate(30 829 912)" fill="none" stroke="#000" stroke-width="1.8"/>
<polygon points="926.4,978.1 925.4,980.4 920.7,980.3 919.7,982.0 921.7,986.6 920.2,988.5 916.0,986.6 914.5,987.8 915.0,993.1 913.0,994.4 909.8,990.8 908.1,991.5 906.9,996.9 904.8,997.3 902.9,992.6 901.2,992.6 898.5,997.3 896.4,996.9 896.1,991.6 894.6,990.9 890.7,994.5 889.0,993.3 890.3,988.0 889.1,986.7 884.5,988.7 883.3,986.9 886.2,982.2 885.5,980.5 880.7,980.7 880.2,978.4 884.2,975.0 884.1,973.1 879.7,971.3 879.9,968.9 884.6,967.2 885.0,965.2 881.6,961.9 882.6,959.6 887.3,959.7 888.3,958.0 886.3,953.4 887.8,951.5 892.0,953.4 893.5,952.2 893.0,946.9 895.0,945.6 898.2,949.2 899.9,948.5 901.1,943.1 903.2,942.7 905.1,947.4 906.8,947.4 909.5,942.7 911.6,943.1 911.9,948.4 913.4,949.1 917.3,945.5 919.0,946.7 917.7,952.0 918.9,953.3 923.5,951.3 924.7,953.1 921.8,957.8 922.5,959.5 927.3,959.3 927.8,961.6 923.8,965.0 923.9,966.9 928.3,968.7 928.1,971.1 923.4,972.8 923.0,974.8" fill="#fff" stroke="#000" stroke-width="2.2" stroke-linejoin="round" stroke-linecap="round"/>
<ellipse cx="906" cy="971" rx="0.0" ry="0.0" transform="rotate(20 906 971)" fill="none" stroke="#000" stroke-width="2.2"/>
<polygon points="948.4,980.1 947.4,982.4 942.7,982.3 941.7,984.0 943.7,988.6 942.2,990.5 938.0,988.6 936.5,989.8 937.0,995.1 935.0,996.4 931.8,992.8 930.1,993.5 928.9,998.9 926.8,999.3 924.9,994.6 923.2,994.6 920.5,999.3 918.4,998.9 918.1,993.6 916.6,992.9 912.7,996.5 911.0,995.3 912.3,990.0 911.1,988.7 906.5,990.7 905.3,988.9 908.2,984.2 907.5,982.5 902.7,982.7 902.2,980.4 906.2,977.0 906.1,975.1 901.7,973.3 901.9,970.9 906.6,969.2 907.0,967.2 903.6,963.9 904.6,961.6 909.3,961.7 910.3,960.0 908.3,955.4 909.8,953.5 914.0,955.4 915.5,954.2 915.0,948.9 917.0,947.6 920.2,951.2 921.9,950.5 923.1,945.1 925.2,944.7 927.1,949.4 928.8,949.4 931.5,944.7 933.6,945.1 933.9,950.4 935.4,951.1 939.3,947.5 941.0,948.7 939.7,954.0 940.9,955.3 945.5,953.3 946.7,955.1 943.8,959.8 944.5,961.5 949.3,961.3 949.8,963.6 945.8,967.0 945.9,968.9 950.3,970.7 950.1,973.1 945.4,974.8 945.0,976.8" fill="#fff" stroke="#000" stroke-width="2.2" stroke-linejoin="round" stroke-linecap="round"/>
<ellipse cx="928" cy="973" rx="0.0" ry="0.0" transform="rotate(20 928 973)" fill="none" stroke="#000" stroke-width="2.2"/>
<path d="M911.2,986.2 L920.2,991.2 L933.8,966.8 L924.8,961.8 A7.7,14.0 29.1 0 0 911.2,986.2 Z" stroke="#000" stroke-width="2.4" fill="#fff" stroke-linejoin="round"/>
<ellipse cx="927" cy="979" rx="7.700000000000001" ry="14" transform="rotate(29.054604099077146 927 979)" fill="#fff" stroke="#000" stroke-width="2.4"/>
<ellipse cx="927" cy="979" rx="4.2" ry="8.4" transform="rotate(29.054604099077146 927 979)" fill="none" stroke="#000" stroke-width="1.5"/>
<ellipse cx="947" cy="995" rx="9" ry="11.5" transform="rotate(30 947 995)" fill="#fff" stroke="#000" stroke-width="2.8"/>
<ellipse cx="948.5" cy="995.5" rx="5.58" ry="7.13" transform="rotate(30 948.5 995.5)" fill="none" stroke="#000" stroke-width="1.6"/>
<ellipse cx="949.5" cy="996" rx="3.15" ry="4.37" transform="rotate(30 949.5 996)" fill="none" stroke="#000" stroke-width="1.4"/>
<ellipse cx="965" cy="1005" rx="9" ry="11.5" transform="rotate(30 965 1005)" fill="#fff" stroke="#000" stroke-width="2.8"/>
<ellipse cx="966.5" cy="1005.5" rx="5.58" ry="7.13" transform="rotate(30 966.5 1005.5)" fill="none" stroke="#000" stroke-width="1.6"/>
<ellipse cx="967.5" cy="1006" rx="3.15" ry="4.37" transform="rotate(30 967.5 1006)" fill="none" stroke="#000" stroke-width="1.4"/>
<ellipse cx="984" cy="1017" rx="9" ry="11.5" transform="rotate(30 984 1017)" fill="#fff" stroke="#000" stroke-width="2.8"/>
<ellipse cx="985.5" cy="1017.5" rx="5.58" ry="7.13" transform="rotate(30 985.5 1017.5)" fill="none" stroke="#000" stroke-width="1.6"/>
<ellipse cx="986.5" cy="1018" rx="3.15" ry="4.37" transform="rotate(30 986.5 1018)" fill="none" stroke="#000" stroke-width="1.4"/>
<path d="M998.1,935.3 L1021.1,927.6 A2.1,3.5 -18.6 0 0 1018.9,920.9 L995.9,928.7 A2.1,3.5 -18.6 0 0 998.1,935.3 Z" stroke="#000" stroke-width="2.0" fill="#fff" stroke-linejoin="round"/>
<ellipse cx="1000.7899691159488" cy="930.7208854233672" rx="1.4" ry="1.4" transform="rotate(0 1000.7899691159488 930.7208854233672)" fill="none" stroke="#000" stroke-width="1.2"/>
<path d="M1018.1,928.6 L1041.1,920.8 A2.1,3.5 -18.6 0 0 1038.9,914.2 L1015.9,921.9 A2.1,3.5 -18.6 0 0 1018.1,928.6 Z" stroke="#000" stroke-width="2.0" fill="#fff" stroke-linejoin="round"/>
<ellipse cx="1020.7899691159488" cy="923.9708854233672" rx="1.4" ry="1.4" transform="rotate(0 1020.7899691159488 923.9708854233672)" fill="none" stroke="#000" stroke-width="1.2"/>
<path d="M1038.1,921.8 L1061.1,914.1 A2.1,3.5 -18.6 0 0 1058.9,907.4 L1035.9,915.2 A2.1,3.5 -18.6 0 0 1038.1,921.8 Z" stroke="#000" stroke-width="2.0" fill="#fff" stroke-linejoin="round"/>
<ellipse cx="1040.789969115949" cy="917.2208854233672" rx="1.4" ry="1.4" transform="rotate(0 1040.789969115949 917.2208854233672)" fill="none" stroke="#000" stroke-width="1.2"/>
<path d="M1058.1,915.1 L1081.1,907.3 A2.1,3.5 -18.6 0 0 1078.9,900.7 L1055.9,908.4 A2.1,3.5 -18.6 0 0 1058.1,915.1 Z" stroke="#000" stroke-width="2.0" fill="#fff" stroke-linejoin="round"/>
<ellipse cx="1060.789969115949" cy="910.4708854233672" rx="1.4" ry="1.4" transform="rotate(0 1060.789969115949 910.4708854233672)" fill="none" stroke="#000" stroke-width="1.2"/>
<path d="M1000.4,941.9 L1023.4,934.2 A2.1,3.5 -18.6 0 0 1021.1,927.6 L998.1,935.3 A2.1,3.5 -18.6 0 0 1000.4,941.9 Z" stroke="#000" stroke-width="2.0" fill="#fff" stroke-linejoin="round"/>
<ellipse cx="1003.028419625056" cy="937.3533313762777" rx="1.4" ry="1.4" transform="rotate(0 1003.028419625056 937.3533313762777)" fill="none" stroke="#000" stroke-width="1.2"/>
<path d="M1020.4,935.2 L1043.4,927.4 A2.1,3.5 -18.6 0 0 1041.1,920.8 L1018.1,928.6 A2.1,3.5 -18.6 0 0 1020.4,935.2 Z" stroke="#000" stroke-width="2.0" fill="#fff" stroke-linejoin="round"/>
<ellipse cx="1023.028419625056" cy="930.6033313762777" rx="1.4" ry="1.4" transform="rotate(0 1023.028419625056 930.6033313762777)" fill="none" stroke="#000" stroke-width="1.2"/>
<path d="M1040.4,928.4 L1063.4,920.7 A2.1,3.5 -18.6 0 0 1061.1,914.1 L1038.1,921.8 A2.1,3.5 -18.6 0 0 1040.4,928.4 Z" stroke="#000" stroke-width="2.0" fill="#fff" stroke-linejoin="round"/>
<ellipse cx="1043.0284196250561" cy="923.8533313762777" rx="1.4" ry="1.4" transform="rotate(0 1043.0284196250561 923.8533313762777)" fill="none" stroke="#000" stroke-width="1.2"/>
<path d="M1060.4,921.7 L1083.4,913.9 A2.1,3.5 -18.6 0 0 1081.1,907.3 L1058.1,915.1 A2.1,3.5 -18.6 0 0 1060.4,921.7 Z" stroke="#000" stroke-width="2.0" fill="#fff" stroke-linejoin="round"/>
<ellipse cx="1063.0284196250561" cy="917.1033313762777" rx="1.4" ry="1.4" transform="rotate(0 1063.0284196250561 917.1033313762777)" fill="none" stroke="#000" stroke-width="1.2"/>
<path d="M1182.2,1175.1 L1207.8,1149.0 A2.7,4.5 -45.6 0 0 1201.4,1142.7 L1175.8,1168.9 A2.7,4.5 -45.6 0 0 1182.2,1175.1 Z" stroke="#000" stroke-width="2.2" fill="#fff" stroke-linejoin="round"/>
<ellipse cx="1181.7968275183478" cy="1169.1403224250603" rx="1.4" ry="1.4" transform="rotate(0 1181.7968275183478 1169.1403224250603)" fill="none" stroke="#000" stroke-width="1.2"/>
<path d="M1204.5,1152.4 L1230.1,1126.2 A2.7,4.5 -45.6 0 0 1223.6,1119.9 L1198.0,1146.1 A2.7,4.5 -45.6 0 0 1204.5,1152.4 Z" stroke="#000" stroke-width="2.2" fill="#fff" stroke-linejoin="round"/>
<ellipse cx="1204.0468275183478" cy="1146.3903224250603" rx="1.4" ry="1.4" transform="rotate(0 1204.0468275183478 1146.3903224250603)" fill="none" stroke="#000" stroke-width="1.2"/>
<path d="M1226.7,1129.6 L1252.3,1103.5 A2.7,4.5 -45.6 0 0 1245.9,1097.2 L1220.3,1123.4 A2.7,4.5 -45.6 0 0 1226.7,1129.6 Z" stroke="#000" stroke-width="2.2" fill="#fff" stroke-linejoin="round"/>
<ellipse cx="1226.2968275183478" cy="1123.6403224250603" rx="1.4" ry="1.4" transform="rotate(0 1226.2968275183478 1123.6403224250603)" fill="none" stroke="#000" stroke-width="1.2"/>
<path d="M1249.0,1106.9 L1274.6,1080.7 A2.7,4.5 -45.6 0 0 1268.1,1074.4 L1242.5,1100.6 A2.7,4.5 -45.6 0 0 1249.0,1106.9 Z" stroke="#000" stroke-width="2.2" fill="#fff" stroke-linejoin="round"/>
<ellipse cx="1248.5468275183478" cy="1100.8903224250603" rx="1.4" ry="1.4" transform="rotate(0 1248.5468275183478 1100.8903224250603)" fill="none" stroke="#000" stroke-width="1.2"/>
<path d="M1189.4,1182.1 L1215.0,1156.0 A2.7,4.5 -45.6 0 0 1208.5,1149.7 L1182.9,1175.8 A2.7,4.5 -45.6 0 0 1189.4,1182.1 Z" stroke="#000" stroke-width="2.2" fill="#fff" stroke-linejoin="round"/>
<ellipse cx="1188.946021455697" cy="1176.1323912209293" rx="1.4" ry="1.4" transform="rotate(0 1188.946021455697 1176.1323912209293)" fill="none" stroke="#000" stroke-width="1.2"/>
<path d="M1211.6,1159.4 L1237.2,1133.2 A2.7,4.5 -45.6 0 0 1230.8,1126.9 L1205.2,1153.1 A2.7,4.5 -45.6 0 0 1211.6,1159.4 Z" stroke="#000" stroke-width="2.2" fill="#fff" stroke-linejoin="round"/>
<ellipse cx="1211.196021455697" cy="1153.3823912209293" rx="1.4" ry="1.4" transform="rotate(0 1211.196021455697 1153.3823912209293)" fill="none" stroke="#000" stroke-width="1.2"/>
<path d="M1233.9,1136.6 L1259.5,1110.5 A2.7,4.5 -45.6 0 0 1253.0,1104.2 L1227.4,1130.3 A2.7,4.5 -45.6 0 0 1233.9,1136.6 Z" stroke="#000" stroke-width="2.2" fill="#fff" stroke-linejoin="round"/>
<ellipse cx="1233.446021455697" cy="1130.6323912209293" rx="1.4" ry="1.4" transform="rotate(0 1233.446021455697 1130.6323912209293)" fill="none" stroke="#000" stroke-width="1.2"/>
<path d="M1256.1,1113.9 L1281.7,1087.7 A2.7,4.5 -45.6 0 0 1275.3,1081.4 L1249.7,1107.6 A2.7,4.5 -45.6 0 0 1256.1,1113.9 Z" stroke="#000" stroke-width="2.2" fill="#fff" stroke-linejoin="round"/>
<ellipse cx="1255.696021455697" cy="1107.8823912209293" rx="1.4" ry="1.4" transform="rotate(0 1255.696021455697 1107.8823912209293)" fill="none" stroke="#000" stroke-width="1.2"/>
<path d="M1167,921 Q1163,914 1171,915 L1189,908 M1169,922 L1190,911 M1176,914 L1187,910" fill="none" stroke="#000" stroke-width="2.2" stroke-linejoin="round" stroke-linecap="round"/>
<ellipse cx="1168" cy="918" rx="3" ry="2.5" transform="rotate(0 1168 918)" fill="none" stroke="#000" stroke-width="1.5"/>
<path d="M967,1062 Q963,1055 971,1056 L989,1049 M969,1063 L990,1052 M976,1055 L987,1051" fill="none" stroke="#000" stroke-width="2.2" stroke-linejoin="round" stroke-linecap="round"/>
<ellipse cx="968" cy="1059" rx="3" ry="2.5" transform="rotate(0 968 1059)" fill="none" stroke="#000" stroke-width="1.5"/>
<path d="M1063.4,1164.2 L1120.8,1195.0 A5.1,8.5 28.2 0 0 1128.8,1180.0 L1071.4,1149.2 A5.1,8.5 28.2 0 0 1063.4,1164.2 Z" stroke="#000" stroke-width="2.6" fill="#fff" stroke-linejoin="round"/>
<ellipse cx="1124.8" cy="1187.5" rx="5.1" ry="8.5" transform="rotate(28.21735585472932 1124.8 1187.5)" fill="none" stroke="#000" stroke-width="1.6"/>
<line x1="1095.97" y1="1179.64" x2="1100.97" y2="1167.64" stroke="#000" stroke-width="1.2" stroke-linecap="butt"/>
<line x1="1101.71" y1="1182.72" x2="1106.71" y2="1170.72" stroke="#000" stroke-width="1.2" stroke-linecap="butt"/>
<line x1="1107.45" y1="1185.8" x2="1112.45" y2="1173.8" stroke="#000" stroke-width="1.2" stroke-linecap="butt"/>
<line x1="1113.19" y1="1188.88" x2="1118.19" y2="1176.88" stroke="#000" stroke-width="1.2" stroke-linecap="butt"/>
<ellipse cx="1123" cy="1187" rx="2" ry="2" transform="rotate(0 1123 1187)" fill="#000" stroke="#000" stroke-width="1.5"/>
<ellipse cx="1140.7" cy="1198.1" rx="12" ry="15" transform="rotate(35 1140.7 1198.1)" fill="#fff" stroke="#000" stroke-width="2.8"/>
<ellipse cx="1142.2" cy="1198.6" rx="7.4399999999999995" ry="9.3" transform="rotate(35 1142.2 1198.6)" fill="none" stroke="#000" stroke-width="1.6"/>
<ellipse cx="1143.2" cy="1199.1" rx="4.199999999999999" ry="5.7" transform="rotate(35 1143.2 1199.1)" fill="none" stroke="#000" stroke-width="1.4"/>
<path d="M1158,1204 A12,15 35 1 1 1160,1222" fill="none" stroke="#000" stroke-width="3" stroke-linejoin="round" stroke-linecap="round"/>
<path d="M1161,1209 A6,8 35 1 1 1163,1218" fill="none" stroke="#000" stroke-width="2.4" stroke-linejoin="round" stroke-linecap="round"/>
<polygon points="1229.0,1247.4 1228.0,1249.8 1222.8,1249.7 1221.7,1251.6 1224.0,1256.5 1222.4,1258.5 1217.7,1256.4 1216.1,1257.8 1216.7,1263.5 1214.6,1264.7 1211.0,1260.9 1209.1,1261.6 1207.9,1267.4 1205.6,1267.8 1203.5,1262.7 1201.6,1262.7 1198.7,1267.8 1196.4,1267.4 1196.1,1261.6 1194.4,1260.9 1190.1,1264.7 1188.2,1263.4 1189.7,1257.7 1188.4,1256.4 1183.4,1258.5 1182.0,1256.5 1185.1,1251.5 1184.3,1249.7 1179.1,1249.8 1178.5,1247.4 1182.9,1243.7 1182.7,1241.6 1177.9,1239.8 1178.2,1237.2 1183.2,1235.3 1183.7,1233.2 1180.0,1229.6 1181.0,1227.2 1186.2,1227.3 1187.3,1225.4 1185.0,1220.5 1186.6,1218.5 1191.3,1220.6 1192.9,1219.2 1192.3,1213.5 1194.4,1212.3 1198.0,1216.1 1199.9,1215.4 1201.1,1209.6 1203.4,1209.2 1205.5,1214.3 1207.4,1214.3 1210.3,1209.2 1212.6,1209.6 1212.9,1215.4 1214.6,1216.1 1218.9,1212.3 1220.8,1213.6 1219.3,1219.3 1220.6,1220.6 1225.6,1218.5 1227.0,1220.5 1223.9,1225.5 1224.7,1227.3 1229.9,1227.2 1230.5,1229.6 1226.1,1233.3 1226.3,1235.4 1231.1,1237.2 1230.8,1239.8 1225.8,1241.7 1225.3,1243.8" fill="#fff" stroke="#000" stroke-width="2.4" stroke-linejoin="round" stroke-linecap="round"/>
<ellipse cx="1206.5" cy="1239.5" rx="0.0" ry="0.0" transform="rotate(20 1206.5 1239.5)" fill="none" stroke="#000" stroke-width="2.4"/>
<path d="M1198,1232 L1206,1228 L1212,1234 L1210,1246 L1202,1248 L1196,1242 Z" fill="none" stroke="#000" stroke-width="2" stroke-linejoin="round" stroke-linecap="round"/>
<ellipse cx="1235" cy="1259" rx="13" ry="17" transform="rotate(25 1235 1259)" fill="#fff" stroke="#000" stroke-width="2.6"/>
<ellipse cx="1241" cy="1262" rx="13" ry="17" transform="rotate(25 1241 1262)" fill="#fff" stroke="#000" stroke-width="2.6"/>
<ellipse cx="1242" cy="1263" rx="3" ry="4" transform="rotate(25 1242 1263)" fill="none" stroke="#000" stroke-width="1.6"/>
<path d="M1272.6,1290.3 L1289.0,1298.5 A2.7,4.5 26.6 0 0 1293.0,1290.5 L1276.6,1282.3 A2.7,4.5 26.6 0 0 1272.6,1290.3 Z" stroke="#000" stroke-width="2.2" fill="#fff" stroke-linejoin="round"/>
<line x1="1277" y1="1283.5" x2="1276" y2="1291.5" stroke="#000" stroke-width="1.2" stroke-linecap="butt"/>
<line x1="1281" y1="1285.5" x2="1280" y2="1293.5" stroke="#000" stroke-width="1.2" stroke-linecap="butt"/>
<line x1="1285" y1="1287.5" x2="1284" y2="1295.5" stroke="#000" stroke-width="1.2" stroke-linecap="butt"/>
<polygon points="1288.0,1290.0 1296.0,1287.0 1303.0,1291.0 1304.0,1300.0 1298.0,1305.0 1290.0,1302.0" fill="#fff" stroke="#000" stroke-width="2.4" stroke-linejoin="round" stroke-linecap="round"/>
<line x1="1296" y1="1287" x2="1296" y2="1304" stroke="#000" stroke-width="1.2" stroke-linecap="butt"/>
<ellipse cx="1323" cy="1216" rx="17" ry="20" transform="rotate(25 1323 1216)" fill="#fff" stroke="#000" stroke-width="2.6"/>
<path d="M1316,1198 L1333,1201 M1310,1234 L1329,1238" stroke="#000" stroke-width="2.2"/>
<ellipse cx="1333" cy="1220" rx="17" ry="20" transform="rotate(25 1333 1220)" fill="#fff" stroke="#000" stroke-width="2.6"/>
<path d="M1333,1216 Q1338,1214 1338,1220 Q1336,1224 1332,1222" fill="none" stroke="#000" stroke-width="1.5" stroke-linejoin="round" stroke-linecap="round"/>
<polygon points="1252.0,1178.0 1268.0,1181.0 1268.0,1199.0 1252.0,1196.0" fill="#fff" stroke="#000" stroke-width="2.4" stroke-linejoin="round" stroke-linecap="round"/>
<polygon points="1266.0,1176.0 1272.0,1173.0 1286.0,1174.0 1286.0,1205.0 1262.0,1211.0 1259.0,1200.0 1268.0,1199.0 1268.0,1181.0" fill="#fff" stroke="#000" stroke-width="2.4" stroke-linejoin="round" stroke-linecap="round"/>
<path d="M1270,1175 L1270,1160 Q1272,1153 1280,1151 L1292,1151 L1294,1163 Q1294,1170 1286,1174" fill="#fff" stroke="#000" stroke-width="2.6" stroke-linejoin="round" stroke-linecap="round"/>
<line x1="1270" y1="1175" x2="1272" y2="1200" stroke="#000" stroke-width="1.2" stroke-linecap="butt"/>
<ellipse cx="1272" cy="1193" rx="2.5" ry="3" transform="rotate(0 1272 1193)" fill="#000" stroke="#000" stroke-width="1.8"/>
<polygon points="1348.0,1110.5 1347.1,1112.9 1341.6,1112.7 1340.6,1114.5 1343.3,1119.6 1341.7,1121.6 1336.8,1119.5 1335.4,1120.9 1336.4,1126.9 1334.5,1128.3 1330.6,1124.5 1328.8,1125.4 1328.2,1131.7 1326.0,1132.4 1323.5,1127.2 1321.6,1127.5 1319.3,1133.4 1317.1,1133.4 1316.2,1127.3 1314.4,1127.0 1310.7,1132.0 1308.7,1131.2 1309.5,1124.9 1308.0,1123.9 1303.2,1127.6 1301.6,1126.0 1304.1,1120.1 1302.9,1118.6 1297.6,1120.5 1296.5,1118.4 1300.4,1113.5 1299.7,1111.6 1294.3,1111.6 1293.9,1109.1 1298.8,1105.6 1298.7,1103.5 1293.7,1101.6 1294.0,1099.0 1299.5,1097.3 1300.0,1095.2 1296.0,1091.5 1296.9,1089.1 1302.4,1089.3 1303.4,1087.5 1300.7,1082.4 1302.3,1080.4 1307.2,1082.5 1308.6,1081.1 1307.6,1075.1 1309.5,1073.7 1313.4,1077.5 1315.2,1076.6 1315.8,1070.3 1318.0,1069.6 1320.5,1074.8 1322.4,1074.5 1324.7,1068.6 1326.9,1068.6 1327.8,1074.7 1329.6,1075.0 1333.3,1070.0 1335.3,1070.8 1334.5,1077.1 1336.0,1078.1 1340.8,1074.4 1342.4,1076.0 1339.9,1081.9 1341.1,1083.4 1346.4,1081.5 1347.5,1083.6 1343.6,1088.5 1344.3,1090.4 1349.7,1090.4 1350.1,1092.9 1345.2,1096.4 1345.3,1098.5 1350.3,1100.4 1350.0,1103.0 1344.5,1104.7 1344.0,1106.8" fill="#fff" stroke="#000" stroke-width="2.2" stroke-linejoin="round" stroke-linecap="round"/>
<ellipse cx="1324" cy="1102" rx="0.0" ry="0.0" transform="rotate(20 1324 1102)" fill="none" stroke="#000" stroke-width="2.2"/>
<polygon points="1359.5,1118.2 1358.4,1120.8 1353.5,1120.9 1352.3,1122.8 1354.1,1127.8 1352.2,1129.8 1347.9,1127.8 1346.2,1129.1 1346.0,1134.7 1343.7,1135.9 1340.6,1132.0 1338.6,1132.5 1336.6,1137.9 1334.2,1138.0 1332.8,1132.8 1330.9,1132.5 1327.3,1136.8 1325.1,1135.8 1325.6,1130.2 1324.0,1129.1 1319.4,1131.6 1317.8,1129.8 1320.1,1124.5 1319.1,1122.7 1314.2,1123.1 1313.4,1120.7 1317.2,1116.6 1317.0,1114.4 1312.5,1112.7 1312.6,1109.9 1317.3,1107.7 1317.9,1105.5 1314.5,1101.8 1315.6,1099.2 1320.5,1099.1 1321.7,1097.2 1319.9,1092.2 1321.8,1090.2 1326.1,1092.2 1327.8,1090.9 1328.0,1085.3 1330.3,1084.1 1333.4,1088.0 1335.4,1087.5 1337.4,1082.1 1339.8,1082.0 1341.2,1087.2 1343.1,1087.5 1346.7,1083.2 1348.9,1084.2 1348.4,1089.8 1350.0,1090.9 1354.6,1088.4 1356.2,1090.2 1353.9,1095.5 1354.9,1097.3 1359.8,1096.9 1360.6,1099.3 1356.8,1103.4 1357.0,1105.6 1361.5,1107.3 1361.4,1110.1 1356.7,1112.3 1356.1,1114.5" fill="#fff" stroke="#000" stroke-width="2.2" stroke-linejoin="round" stroke-linecap="round"/>
<ellipse cx="1339" cy="1111" rx="0.0" ry="0.0" transform="rotate(20 1339 1111)" fill="none" stroke="#000" stroke-width="2.2"/>
<ellipse cx="1342" cy="1112.5" rx="12" ry="15" transform="rotate(25 1342 1112.5)" fill="none" stroke="#000" stroke-width="2.4"/>
<ellipse cx="1344" cy="1112" rx="6" ry="9" transform="rotate(25 1344 1112)" fill="none" stroke="#000" stroke-width="2"/>
<polygon points="420.9,825.7 430.7,823.1 506.9,868.4 506.9,937.3 497.7,937.3 425.5,892.0" fill="#fff" stroke="#000" stroke-width="3" stroke-linejoin="round" stroke-linecap="round"/>
<polygon points="407.1,820.5 411.1,818.5 420.3,823.1 420.9,891.4 418.9,894.0 407.1,887.4" fill="#fff" stroke="#000" stroke-width="3" stroke-linejoin="round" stroke-linecap="round"/>
<polyline points="421.6,838.9 455.7,861.2 471.4,855.9 506.9,870.4" fill="none" stroke="#000" stroke-width="2.6" stroke-linejoin="round" stroke-linecap="round"/>
<line x1="421.6" y1="831.7" x2="434.7" y2="829.7" stroke="#000" stroke-width="1.2" stroke-linecap="butt"/>
<line x1="428.1" y1="849.4" x2="427.5" y2="888.8" stroke="#000" stroke-width="1.2" stroke-dasharray="8,3"/>
<line x1="503" y1="871" x2="503" y2="936" stroke="#000" stroke-width="1.2" stroke-linecap="butt"/>
<ellipse cx="412.4" cy="838.2" rx="2" ry="3.5" transform="rotate(0 412.4 838.2)" fill="none" stroke="#000" stroke-width="1.8"/>
<ellipse cx="411.1" cy="873.7" rx="2" ry="3.5" transform="rotate(0 411.1 873.7)" fill="none" stroke="#000" stroke-width="1.8"/>
<polyline points="322.5,882.8 321.8,942.6 375.6,979.3 383.5,980.6 390.1,991.1 409.8,999.0 428.1,996.4 442.6,983.3 442.6,917.6" fill="none" stroke="#000" stroke-width="3" stroke-linejoin="round" stroke-linecap="round"/>
<path d="M442.6,917.6 L440,925.5 Q432,933 421.6,934.7 L404.5,934.7 Q395,932 388.8,925.5 L378.2,917.6" fill="none" stroke="#000" stroke-width="2.6" stroke-linejoin="round" stroke-linecap="round"/>
<path d="M440,928 Q432,936 421.6,937.5 L404.5,937.5 Q395,935 386,927" fill="none" stroke="#000" stroke-width="1.2" stroke-linejoin="round" stroke-linecap="round"/>
<polyline points="337.6,888.8 357.3,883.5 397.9,911.1 397.9,915.0 378.2,917.6" fill="none" stroke="#000" stroke-width="2.8" stroke-linejoin="round" stroke-linecap="round"/>
<polygon points="322.5,882.8 325.7,873.0 328.4,871.7 341.5,879.6 341.5,887.4 337.6,888.8 322.5,882.8" fill="#fff" stroke="#000" stroke-width="2.6" stroke-linejoin="round" stroke-linecap="round"/>
<line x1="322.5" y1="884.8" x2="388.8" y2="925.5" stroke="#000" stroke-width="1.2" stroke-linecap="butt"/>
<line x1="328" y1="878" x2="338" y2="884" stroke="#000" stroke-width="1.5" stroke-linecap="butt"/>
<path d="M265.6,1036.1 L280.6,1072.1 A4.8,8.0 67.4 0 0 295.4,1065.9 L280.4,1029.9 A4.8,8.0 67.4 0 0 265.6,1036.1 Z" stroke="#000" stroke-width="2.6" fill="#fff" stroke-linejoin="round"/>
<ellipse cx="288" cy="1069" rx="4.8" ry="8" transform="rotate(67.38013505195957 288 1069)" fill="none" stroke="#000" stroke-width="1.6"/>
<path d="M270.5,1045.8 Q277.5,1040.8 285.5,1039.8" fill="none" stroke="#000" stroke-width="1.6" stroke-linejoin="round" stroke-linecap="round"/>
<path d="M272.45,1050.48 Q279.45,1045.48 287.45,1044.48" fill="none" stroke="#000" stroke-width="1.6" stroke-linejoin="round" stroke-linecap="round"/>
<path d="M274.4,1055.16 Q281.4,1050.16 289.4,1049.16" fill="none" stroke="#000" stroke-width="1.6" stroke-linejoin="round" stroke-linecap="round"/>
<path d="M276.35,1059.84 Q283.35,1054.84 291.35,1053.84" fill="none" stroke="#000" stroke-width="1.6" stroke-linejoin="round" stroke-linecap="round"/>
<path d="M278.3,1064.52 Q285.3,1059.52 293.3,1058.52" fill="none" stroke="#000" stroke-width="1.6" stroke-linejoin="round" stroke-linecap="round"/>
<path d="M294.1,1090.3 L358.1,1233.3 A1.9,3.2 65.9 0 0 363.9,1230.7 L299.9,1087.7 A1.9,3.2 65.9 0 0 294.1,1090.3 Z" stroke="#000" stroke-width="2.2" fill="#fff" stroke-linejoin="round"/>
<line x1="298.5" y1="1092" x2="359" y2="1228" stroke="#000" stroke-width="1.0" stroke-linecap="butt"/>
<path d="M510,1216 L545,1255 L572,1326" fill="none" stroke="#000" stroke-width="8" stroke-linejoin="round" stroke-linecap="round"/>
<path d="M510,1216 L545,1255 L572,1326" fill="none" stroke="#fff" stroke-width="3" stroke-linejoin="round" stroke-linecap="round"/>
<path d="M368.5,1239.9 L411.0,1228.9 A2.4,4.0 -14.5 0 0 409.0,1221.1 L366.5,1232.1 A2.4,4.0 -14.5 0 0 368.5,1239.9 Z" stroke="#000" stroke-width="2.2" fill="#fff" stroke-linejoin="round"/>
<polygon points="355.0,1177.5 360.0,1176.0 380.0,1187.5 381.0,1222.5 395.0,1232.5 395.0,1252.5 392.5,1253.8 372.5,1240.0 363.8,1230.0" fill="#fff" stroke="#000" stroke-width="2.8" stroke-linejoin="round" stroke-linecap="round"/>
<polygon points="351.0,1230.0 365.0,1232.5 364.0,1245.0 352.5,1242.5" fill="#fff" stroke="#000" stroke-width="2.6" stroke-linejoin="round" stroke-linecap="round"/>
<line x1="356" y1="1180" x2="361" y2="1230" stroke="#000" stroke-width="1.2" stroke-linecap="butt"/>
<polygon points="397.5,1198.8 417.5,1191.0 420.0,1192.5 435.0,1227.5 412.5,1236.0 400.0,1207.5" fill="#fff" stroke="#000" stroke-width="2.8" stroke-linejoin="round" stroke-linecap="round"/>
<line x1="405" y1="1197" x2="418" y2="1230" stroke="#000" stroke-width="1.2" stroke-linecap="butt"/>
<path d="M429.2,1219.9 L439.2,1221.9 A2.4,4.0 11.3 0 0 440.8,1214.1 L430.8,1212.1 A2.4,4.0 11.3 0 0 429.2,1219.9 Z" stroke="#000" stroke-width="2.2" fill="#fff" stroke-linejoin="round"/>
<ellipse cx="440" cy="1218" rx="2.4" ry="4" transform="rotate(11.309932474020213 440 1218)" fill="none" stroke="#000" stroke-width="1.6"/>
<ellipse cx="362.5" cy="1190" rx="1.8" ry="1.8" transform="rotate(0 362.5 1190)" fill="#000" stroke="#000" stroke-width="1.5"/>
<ellipse cx="371" cy="1196" rx="1.8" ry="1.8" transform="rotate(0 371 1196)" fill="#000" stroke="#000" stroke-width="1.5"/>
<ellipse cx="387.5" cy="1237.5" rx="1.8" ry="1.8" transform="rotate(0 387.5 1237.5)" fill="#000" stroke="#000" stroke-width="1.5"/>
<ellipse cx="402.5" cy="1202.5" rx="1.8" ry="1.8" transform="rotate(0 402.5 1202.5)" fill="#000" stroke="#000" stroke-width="1.5"/>
<ellipse cx="415" cy="1201" rx="1.8" ry="1.8" transform="rotate(0 415 1201)" fill="#000" stroke="#000" stroke-width="1.5"/>
<polygon points="446.0,1152.5 472.5,1167.5 474.0,1200.0 489.0,1210.0 487.5,1230.0 457.5,1211.0 450.0,1185.0" fill="#fff" stroke="#000" stroke-width="2.8" stroke-linejoin="round" stroke-linecap="round"/>
<line x1="450" y1="1156" x2="456" y2="1208" stroke="#000" stroke-width="1.2" stroke-linecap="butt"/>
<ellipse cx="452.5" cy="1169" rx="1.8" ry="1.8" transform="rotate(0 452.5 1169)" fill="#000" stroke="#000" stroke-width="1.5"/>
<ellipse cx="457.5" cy="1181" rx="1.8" ry="1.8" transform="rotate(0 457.5 1181)" fill="#000" stroke="#000" stroke-width="1.5"/>
<ellipse cx="480" cy="1215" rx="1.8" ry="1.8" transform="rotate(0 480 1215)" fill="#000" stroke="#000" stroke-width="1.5"/>
<ellipse cx="467.5" cy="1210" rx="3" ry="3.5" transform="rotate(0 467.5 1210)" fill="none" stroke="#000" stroke-width="1.8"/>
<polygon points="596.2,1397.1 598.8,1363.1 602.0,1362.0 615.8,1376.9 624.9,1389.6 625.9,1354.6 630.7,1353.0 642.9,1366.3 660.5,1400.3 660.5,1415.1 624.3,1427.9 596.2,1397.1" fill="#fff" stroke="#000" stroke-width="2.8" stroke-linejoin="round" stroke-linecap="round"/>
<polyline points="615.8,1376.9 628.6,1407.7 628.6,1427.0" fill="none" stroke="#000" stroke-width="2.2" stroke-linejoin="round" stroke-linecap="round"/>
<polyline points="628.6,1408.8 659.4,1400.3" fill="none" stroke="#000" stroke-width="1.3" stroke-linejoin="round" stroke-linecap="round"/>
<polyline points="630.0,1412.0 630.0,1422.0 659.0,1413.0" fill="none" stroke="#000" stroke-width="1.3" stroke-linejoin="round" stroke-linecap="round"/>
<line x1="625" y1="1390" x2="645" y2="1406" stroke="#000" stroke-width="1.2" stroke-linecap="butt"/>
<ellipse cx="604.1" cy="1379" rx="2" ry="3" transform="rotate(0 604.1 1379)" fill="none" stroke="#000" stroke-width="1.8"/>
<ellipse cx="633.4" cy="1368.9" rx="2" ry="3" transform="rotate(0 633.4 1368.9)" fill="none" stroke="#000" stroke-width="1.8"/>
<ellipse cx="621.1" cy="1412" rx="2" ry="3" transform="rotate(0 621.1 1412)" fill="none" stroke="#000" stroke-width="1.8"/>
<ellipse cx="650.4" cy="1401.3" rx="2" ry="3" transform="rotate(0 650.4 1401.3)" fill="none" stroke="#000" stroke-width="1.8"/>
<polygon points="615.8,1446.0 656.2,1433.2 667.9,1441.7 681.7,1455.5 682.8,1461.9 676.4,1499.1 672.0,1502.0 668.0,1495.0 660.0,1508.0 650.0,1502.0 644.0,1500.0 629.0,1488.0 629.0,1478.0 615.3,1466.1 615.8,1446.0" fill="#fff" stroke="#000" stroke-width="2.8" stroke-linejoin="round" stroke-linecap="round"/>
<polyline points="615.8,1446.0 626.4,1454.5 667.9,1441.7" fill="none" stroke="#000" stroke-width="2.4" stroke-linejoin="round" stroke-linecap="round"/>
<polyline points="626.4,1454.5 644.5,1468.3 644.5,1491.7 658.3,1504.4" fill="none" stroke="#000" stroke-width="2.2" stroke-linejoin="round" stroke-linecap="round"/>
<polyline points="644.5,1468.3 655.0,1452.0 667.0,1449.0 681.7,1455.5" fill="none" stroke="#000" stroke-width="1.6" stroke-linejoin="round" stroke-linecap="round"/>
<line x1="648" y1="1472" x2="668" y2="1488" stroke="#000" stroke-width="1.2" stroke-linecap="butt"/>
<ellipse cx="635" cy="1473.6" rx="2" ry="2.5" transform="rotate(0 635 1473.6)" fill="none" stroke="#000" stroke-width="1.6"/>
<ellipse cx="673.2" cy="1463" rx="2" ry="2.5" transform="rotate(0 673.2 1463)" fill="none" stroke="#000" stroke-width="1.6"/>
<polyline points="487.3,997.8 483.8,1053.8 480.6,1104.5 510.9,1181.5 559.0,1209.5" fill="none" stroke="#000" stroke-width="3" stroke-linejoin="round" stroke-linecap="round"/>
<path d="M487.3,997.8 Q495,1000 497.8,1001.3 Q503,1008 506.5,1009.1 L522.3,1009.1 L527.5,1005.6" fill="none" stroke="#000" stroke-width="2.6" stroke-linejoin="round" stroke-linecap="round"/>
<polyline points="507.4,1009.0 507.4,1035.4 576.5,1062.5" fill="none" stroke="#000" stroke-width="2.6" stroke-linejoin="round" stroke-linecap="round"/>
<polyline points="527.5,1006.5 527.5,1030.1 576.5,1053.8" fill="none" stroke="#000" stroke-width="2.6" stroke-linejoin="round" stroke-linecap="round"/>
<polyline points="507.4,1035.4 527.5,1030.1" fill="none" stroke="#000" stroke-width="1.3" stroke-linejoin="round" stroke-linecap="round"/>
<polygon points="538.0,1083.0 546.0,1080.0 555.5,1087.0 555.5,1108.0 546.0,1113.0 537.0,1113.0" fill="#fff" stroke="#000" stroke-width="2.6" stroke-linejoin="round" stroke-linecap="round"/>
<line x1="563" y1="1081" x2="580" y2="1094" stroke="#000" stroke-width="2.4" stroke-linecap="butt"/>
<ellipse cx="545" cy="1101" rx="4" ry="5" transform="rotate(20 545 1101)" fill="none" stroke="#000" stroke-width="2"/>
<polygon points="527.5,1118.5 545.0,1116.8 545.0,1158.8 573.0,1181.5 581.8,1185.0 581.8,1211.3 560.8,1213.0 527.5,1158.8 527.5,1118.5" fill="#fff" stroke="#000" stroke-width="2.6" stroke-linejoin="round" stroke-linecap="round"/>
<path d="M567,1069.5 L567,1090 Q578,1097 589,1090 L589,1069.5" fill="#fff" stroke="#000" stroke-width="2.6"/>
<ellipse cx="578.3" cy="1069.5" rx="11" ry="7" transform="rotate(0 578.3 1069.5)" fill="#fff" stroke="#000" stroke-width="2.6"/>
<ellipse cx="578.3" cy="1069" rx="6" ry="3.5" transform="rotate(0 578.3 1069)" fill="none" stroke="#000" stroke-width="1.8"/>
<path d="M560.5,1189 L560.5,1210 Q571,1217 582,1210 L582,1189" fill="#fff" stroke="#000" stroke-width="2.6"/>
<ellipse cx="571.3" cy="1188.5" rx="11" ry="7" transform="rotate(0 571.3 1188.5)" fill="#fff" stroke="#000" stroke-width="2.6"/>
<ellipse cx="571.3" cy="1188" rx="6" ry="3.5" transform="rotate(0 571.3 1188)" fill="none" stroke="#000" stroke-width="1.8"/>
<ellipse cx="486.4" cy="1075.6" rx="1.8" ry="1.8" transform="rotate(0 486.4 1075.6)" fill="#000" stroke="#000" stroke-width="1.5"/>
<path d="M475.0,989.4 L496.9,984.2 A2.4,4.0 -13.4 0 0 495.1,976.4 L473.2,981.6 A2.4,4.0 -13.4 0 0 475.0,989.4 Z" stroke="#000" stroke-width="2.2" fill="#fff" stroke-linejoin="round"/>
<path d="M528.4,976.7 L541.4,971.7 A2.4,4.0 -21.0 0 0 538.6,964.3 L525.6,969.3 A2.4,4.0 -21.0 0 0 528.4,976.7 Z" stroke="#000" stroke-width="2.2" fill="#fff" stroke-linejoin="round"/>
<ellipse cx="540" cy="968" rx="2.4" ry="4" transform="rotate(-21.037511025421818 540 968)" fill="none" stroke="#000" stroke-width="1.6"/>
<polygon points="488.1,964.5 509.1,975.0 509.1,1000.4 489.9,990.8" fill="#fff" stroke="#000" stroke-width="2.8" stroke-linejoin="round" stroke-linecap="round"/>
<polygon points="509.1,975.0 527.5,969.8 527.5,997.8 509.1,1000.4" fill="#fff" stroke="#000" stroke-width="2.8" stroke-linejoin="round" stroke-linecap="round"/>
<polygon points="488.1,964.5 510.0,958.4 527.5,969.8 509.1,975.0" fill="#fff" stroke="#000" stroke-width="2.8" stroke-linejoin="round" stroke-linecap="round"/>
<polygon points="498.0,964.0 510.0,961.0 519.0,967.0 508.0,970.0" fill="none" stroke="#000" stroke-width="1.6" stroke-linejoin="round" stroke-linecap="round"/>
<path d="M448.1,1056.5 L467.6,1066.0 L476.4,1048.0 L456.9,1038.5 A5.5,10.0 26.0 0 0 448.1,1056.5 Z" stroke="#000" stroke-width="2.6" fill="#fff" stroke-linejoin="round"/>
<ellipse cx="472" cy="1057" rx="5.5" ry="10" transform="rotate(25.974393962431318 472 1057)" fill="#fff" stroke="#000" stroke-width="2.6"/>
<ellipse cx="472" cy="1057" rx="3.0" ry="6.0" transform="rotate(25.974393962431318 472 1057)" fill="none" stroke="#000" stroke-width="1.5"/>
<path d="M610.1,1161.3 L624.1,1170.3 L635.9,1151.7 L621.9,1142.7 A6.1,11.0 32.7 0 0 610.1,1161.3 Z" stroke="#000" stroke-width="2.6" fill="#fff" stroke-linejoin="round"/>
<ellipse cx="630" cy="1161" rx="6.050000000000001" ry="11" transform="rotate(32.7352262721076 630 1161)" fill="#fff" stroke="#000" stroke-width="2.6"/>
<ellipse cx="630" cy="1161" rx="3.3" ry="6.6" transform="rotate(32.7352262721076 630 1161)" fill="none" stroke="#000" stroke-width="1.5"/>
<path d="M639.5,1175.6 L680.5,1203.6 A4.8,8.0 34.3 0 0 689.5,1190.4 L648.5,1162.4 A4.8,8.0 34.3 0 0 639.5,1175.6 Z" stroke="#000" stroke-width="2.6" fill="#fff" stroke-linejoin="round"/>
<ellipse cx="685" cy="1197" rx="4.8" ry="8" transform="rotate(34.33021719550332 685 1197)" fill="none" stroke="#000" stroke-width="1.6"/>
<rect x="658" y="1176" width="14" height="3" transform="rotate(34 658 1176)" fill="none" stroke="#000" stroke-width="1.5"/>
<path d="M687.6,1209.7 L722.6,1232.7 A4.8,8.0 33.3 0 0 731.4,1219.3 L696.4,1196.3 A4.8,8.0 33.3 0 0 687.6,1209.7 Z" stroke="#000" stroke-width="2.6" fill="#fff" stroke-linejoin="round"/>
<ellipse cx="727" cy="1226" rx="4.8" ry="8" transform="rotate(33.31063082456081 727 1226)" fill="none" stroke="#000" stroke-width="1.6"/>
<rect x="702" y="1207" width="12" height="3" transform="rotate(34 702 1207)" fill="none" stroke="#000" stroke-width="1.5"/>
<ellipse cx="735" cy="1230" rx="10" ry="13" transform="rotate(32 735 1230)" fill="#fff" stroke="#000" stroke-width="2.8"/>
<ellipse cx="736.5" cy="1230.5" rx="6.2" ry="8.06" transform="rotate(32 736.5 1230.5)" fill="none" stroke="#000" stroke-width="1.6"/>
<ellipse cx="737.5" cy="1231" rx="3.5" ry="4.94" transform="rotate(32 737.5 1231)" fill="none" stroke="#000" stroke-width="1.4"/>
<ellipse cx="752" cy="1241" rx="10" ry="13" transform="rotate(32 752 1241)" fill="#fff" stroke="#000" stroke-width="2.8"/>
<ellipse cx="753.5" cy="1241.5" rx="6.2" ry="8.06" transform="rotate(32 753.5 1241.5)" fill="none" stroke="#000" stroke-width="1.6"/>
<ellipse cx="754.5" cy="1242" rx="3.5" ry="4.94" transform="rotate(32 754.5 1242)" fill="none" stroke="#000" stroke-width="1.4"/>
<path d="M832.4,1101 L832.4,1127 Q838,1130 844.1,1127 L844.1,1101" fill="#fff" stroke="#000" stroke-width="2.4"/>
<ellipse cx="838.2" cy="1101" rx="5.8" ry="3" transform="rotate(0 838.2 1101)" fill="#fff" stroke="#000" stroke-width="2.4"/>
<path d="M824.8000000000001,1140 L824.8000000000001,1147 A13.4,5.5 0 0 0 851.6,1147 L851.6,1140" fill="#fff" stroke="#000" stroke-width="2.6"/>
<ellipse cx="838.2" cy="1140" rx="13.4" ry="5.5" transform="rotate(0 838.2 1140)" fill="#fff" stroke="#000" stroke-width="2.6"/>
<ellipse cx="838.2" cy="1140" rx="6.03" ry="2.475" transform="rotate(0 838.2 1140)" fill="none" stroke="#000" stroke-width="1.8"/>
<line x1="838" y1="1147" x2="838" y2="1151" stroke="#000" stroke-width="1.5" stroke-linecap="butt"/>
<path d="M824.5,1166 L824.5,1172 A12.5,5 0 0 0 849.5,1172 L849.5,1166" fill="#fff" stroke="#000" stroke-width="2.6"/>
<ellipse cx="837" cy="1166" rx="12.5" ry="5" transform="rotate(0 837 1166)" fill="#fff" stroke="#000" stroke-width="2.6"/>
<ellipse cx="837" cy="1166" rx="6.25" ry="2.5" transform="rotate(0 837 1166)" fill="none" stroke="#000" stroke-width="1.8"/>
<path d="M824.5,1177 L824.5,1183 A12.5,5 0 0 0 849.5,1183 L849.5,1177" fill="#fff" stroke="#000" stroke-width="2.6"/>
<ellipse cx="837" cy="1177" rx="12.5" ry="5" transform="rotate(0 837 1177)" fill="#fff" stroke="#000" stroke-width="2.6"/>
<ellipse cx="837" cy="1177" rx="6.25" ry="2.5" transform="rotate(0 837 1177)" fill="none" stroke="#000" stroke-width="1.8"/>
<path d="M824.5,1188 L824.5,1194 A12.5,5 0 0 0 849.5,1194 L849.5,1188" fill="#fff" stroke="#000" stroke-width="2.6"/>
<ellipse cx="837" cy="1188" rx="12.5" ry="5" transform="rotate(0 837 1188)" fill="#fff" stroke="#000" stroke-width="2.6"/>
<ellipse cx="837" cy="1188" rx="6.25" ry="2.5" transform="rotate(0 837 1188)" fill="none" stroke="#000" stroke-width="1.8"/>
<path d="M822.8,1206 L822.8,1213 A12.7,5.5 0 0 0 848.2,1213 L848.2,1206" fill="#fff" stroke="#000" stroke-width="2.6"/>
<ellipse cx="835.5" cy="1206" rx="12.7" ry="5.5" transform="rotate(0 835.5 1206)" fill="#fff" stroke="#000" stroke-width="2.6"/>
<ellipse cx="835.5" cy="1206" rx="5.715" ry="2.475" transform="rotate(0 835.5 1206)" fill="none" stroke="#000" stroke-width="1.8"/>
<line x1="835.5" y1="1213" x2="835.5" y2="1217" stroke="#000" stroke-width="1.5" stroke-linecap="butt"/>
<path d="M822.0999999999999,1227 L822.0999999999999,1231 A12.7,5.5 0 0 0 847.5,1231 L847.5,1227" fill="#fff" stroke="#000" stroke-width="2.6"/>
<ellipse cx="834.8" cy="1227" rx="12.7" ry="5.5" transform="rotate(0 834.8 1227)" fill="#fff" stroke="#000" stroke-width="2.6"/>
<ellipse cx="834.8" cy="1227" rx="6.35" ry="2.75" transform="rotate(0 834.8 1227)" fill="none" stroke="#000" stroke-width="1.8"/>
<path d="M823.4,1243 L823.4,1255 A10,5 0 0 0 843.4,1255 L843.4,1243" fill="#fff" stroke="#000" stroke-width="2.6"/>
<ellipse cx="833.4" cy="1243" rx="10" ry="5" transform="rotate(0 833.4 1243)" fill="#fff" stroke="#000" stroke-width="2.6"/>
<ellipse cx="833.4" cy="1243" rx="7.5" ry="3.75" transform="rotate(0 833.4 1243)" fill="none" stroke="#000" stroke-width="1.8"/>
<path d="M814,1275 Q812,1300 826,1311 L842,1311 Q855,1300 853,1275 Q845,1262 833,1263 Q820,1264 814,1275 Z" fill="#fff" stroke="#000" stroke-width="2.6"/>
<path d="M820.4,1268 Q816.9,1287 821.8,1308" fill="none" stroke="#000" stroke-width="1.8" stroke-linejoin="round" stroke-linecap="round"/>
<path d="M825.8,1268 Q823.8,1287 826.6,1308" fill="none" stroke="#000" stroke-width="1.8" stroke-linejoin="round" stroke-linecap="round"/>
<path d="M831.2,1268 Q830.7,1287 831.4,1308" fill="none" stroke="#000" stroke-width="1.8" stroke-linejoin="round" stroke-linecap="round"/>
<path d="M836.6,1268 Q837.6,1287 836.2,1308" fill="none" stroke="#000" stroke-width="1.8" stroke-linejoin="round" stroke-linecap="round"/>
<path d="M842.0,1268 Q844.5,1287 841.0,1308" fill="none" stroke="#000" stroke-width="1.8" stroke-linejoin="round" stroke-linecap="round"/>
<path d="M846.5,1268 Q850.25,1287 845.0,1308" fill="none" stroke="#000" stroke-width="1.8" stroke-linejoin="round" stroke-linecap="round"/>
<ellipse cx="833" cy="1269" rx="10" ry="4" transform="rotate(0 833 1269)" fill="none" stroke="#000" stroke-width="1.8"/>
<path d="M800,1280 A7,9 30 1 1 812,1276" fill="none" stroke="#000" stroke-width="2.4" stroke-linejoin="round" stroke-linecap="round"/>
<ellipse cx="806.3" cy="1273" rx="3.5" ry="5" transform="rotate(30 806.3 1273)" fill="none" stroke="#000" stroke-width="1.6"/>
<path d="M852,1312 A8,10 30 1 1 866,1310" fill="none" stroke="#000" stroke-width="2.4" stroke-linejoin="round" stroke-linecap="round"/>
<ellipse cx="859" cy="1307" rx="4" ry="5.5" transform="rotate(30 859 1307)" fill="none" stroke="#000" stroke-width="1.6"/>
<polygon points="760.2,1262.7 761.3,1254.9 766.4,1247.0 776.5,1238.6 787.7,1238.0 800.7,1253.7 800.7,1276.2 792.8,1280.7 779.9,1280.7 761.9,1270.6" fill="none" stroke="#000" stroke-width="2.2" stroke-linejoin="round"/>
<line x1="762.0" y1="1266.0" x2="779.0" y2="1275.0" stroke="#000" stroke-width="1.9"/>
<line x1="764.7" y1="1262.1" x2="781.7" y2="1271.1" stroke="#000" stroke-width="1.9"/>
<line x1="767.4" y1="1258.3" x2="784.4" y2="1267.3" stroke="#000" stroke-width="1.9"/>
<line x1="770.1" y1="1254.4" x2="787.1" y2="1263.4" stroke="#000" stroke-width="1.9"/>
<line x1="772.9" y1="1250.6" x2="789.9" y2="1259.6" stroke="#000" stroke-width="1.9"/>
<line x1="775.6" y1="1246.7" x2="792.6" y2="1255.7" stroke="#000" stroke-width="1.9"/>
<line x1="778.3" y1="1242.9" x2="795.3" y2="1251.9" stroke="#000" stroke-width="1.9"/>
<line x1="781.0" y1="1239.0" x2="798.0" y2="1248.0" stroke="#000" stroke-width="1.9"/>
<polygon points="799.0,1269.3 798.4,1270.7 796.0,1270.8 795.3,1271.7 795.8,1274.5 794.7,1275.5 792.7,1274.0 791.7,1274.5 791.0,1277.4 789.7,1277.7 788.7,1275.2 787.7,1275.1 785.9,1277.3 784.8,1276.8 785.1,1273.8 784.3,1273.1 781.9,1274.1 781.3,1272.9 782.8,1270.4 782.5,1269.3 780.1,1268.8 780.1,1267.3 782.4,1265.8 782.6,1264.6 781.0,1262.7 781.6,1261.3 784.0,1261.2 784.7,1260.3 784.2,1257.5 785.3,1256.5 787.3,1258.0 788.3,1257.5 789.0,1254.6 790.3,1254.3 791.3,1256.8 792.3,1256.9 794.1,1254.7 795.2,1255.2 794.9,1258.2 795.7,1258.9 798.1,1257.9 798.7,1259.1 797.2,1261.6 797.5,1262.7 799.9,1263.2 799.9,1264.7 797.6,1266.2 797.4,1267.4" fill="#f8e000" stroke="#000" stroke-width="1.8"/>
<ellipse cx="790" cy="1266" rx="4.5" ry="6" transform="rotate(20 790 1266)" fill="none" stroke="#000" stroke-width="2.2"/>
<polygon points="863.2,1336.7 864.3,1328.9 869.4,1321.0 879.5,1312.6 890.7,1312.0 903.7,1327.7 903.7,1350.2 895.8,1354.7 882.9,1354.7 864.9,1344.6" fill="none" stroke="#000" stroke-width="2.2" stroke-linejoin="round"/>
<line x1="865.0" y1="1340.0" x2="882.0" y2="1349.0" stroke="#000" stroke-width="1.9"/>
<line x1="867.7" y1="1336.1" x2="884.7" y2="1345.1" stroke="#000" stroke-width="1.9"/>
<line x1="870.4" y1="1332.3" x2="887.4" y2="1341.3" stroke="#000" stroke-width="1.9"/>
<line x1="873.1" y1="1328.4" x2="890.1" y2="1337.4" stroke="#000" stroke-width="1.9"/>
<line x1="875.9" y1="1324.6" x2="892.9" y2="1333.6" stroke="#000" stroke-width="1.9"/>
<line x1="878.6" y1="1320.7" x2="895.6" y2="1329.7" stroke="#000" stroke-width="1.9"/>
<line x1="881.3" y1="1316.9" x2="898.3" y2="1325.9" stroke="#000" stroke-width="1.9"/>
<line x1="884.0" y1="1313.0" x2="901.0" y2="1322.0" stroke="#000" stroke-width="1.9"/>
<polygon points="902.0,1343.3 901.4,1344.7 899.0,1344.8 898.3,1345.7 898.8,1348.5 897.7,1349.5 895.7,1348.0 894.7,1348.5 894.0,1351.4 892.7,1351.7 891.7,1349.2 890.7,1349.1 888.9,1351.3 887.8,1350.8 888.1,1347.8 887.3,1347.1 884.9,1348.1 884.3,1346.9 885.8,1344.4 885.5,1343.3 883.1,1342.8 883.1,1341.3 885.4,1339.8 885.6,1338.6 884.0,1336.7 884.6,1335.3 887.0,1335.2 887.7,1334.3 887.2,1331.5 888.3,1330.5 890.3,1332.0 891.3,1331.5 892.0,1328.6 893.3,1328.3 894.3,1330.8 895.3,1330.9 897.1,1328.7 898.2,1329.2 897.9,1332.2 898.7,1332.9 901.1,1331.9 901.7,1333.1 900.2,1335.6 900.5,1336.7 902.9,1337.2 902.9,1338.7 900.6,1340.2 900.4,1341.4" fill="#f8e000" stroke="#000" stroke-width="1.8"/>
<ellipse cx="893" cy="1340" rx="4.5" ry="6" transform="rotate(20 893 1340)" fill="none" stroke="#000" stroke-width="2.2"/>
<ellipse cx="926" cy="1354" rx="10" ry="13" transform="rotate(32 926 1354)" fill="#fff" stroke="#000" stroke-width="2.8"/>
<ellipse cx="927.5" cy="1354.5" rx="6.2" ry="8.06" transform="rotate(32 927.5 1354.5)" fill="none" stroke="#000" stroke-width="1.6"/>
<ellipse cx="928.5" cy="1355" rx="3.5" ry="4.94" transform="rotate(32 928.5 1355)" fill="none" stroke="#000" stroke-width="1.4"/>
<path d="M940.8,1373.6 L998.8,1406.6 A3.9,6.5 29.6 0 0 1005.2,1395.4 L947.2,1362.4 A3.9,6.5 29.6 0 0 940.8,1373.6 Z" stroke="#000" stroke-width="2.6" fill="#fff" stroke-linejoin="round"/>
<ellipse cx="1002" cy="1401" rx="3.9" ry="6.5" transform="rotate(29.638383688151343 1002 1401)" fill="none" stroke="#000" stroke-width="1.6"/>
<rect x="954" y="1370" width="10" height="3" transform="rotate(30 954 1370)" fill="none" stroke="#000" stroke-width="1.5"/>
<path d="M818,1348 L818,1361 A11,5 0 0 0 840,1361 L840,1348" fill="#fff" stroke="#000" stroke-width="2.6"/>
<ellipse cx="829" cy="1348" rx="11" ry="5" transform="rotate(0 829 1348)" fill="#fff" stroke="#000" stroke-width="2.6"/>
<ellipse cx="829" cy="1348" rx="6.6" ry="3.0" transform="rotate(0 829 1348)" fill="none" stroke="#000" stroke-width="1.8"/>
<path d="M813.5,1376 L813.5,1381 A12.5,5 0 0 0 838.5,1381 L838.5,1376" fill="#fff" stroke="#000" stroke-width="2.6"/>
<ellipse cx="826" cy="1376" rx="12.5" ry="5" transform="rotate(0 826 1376)" fill="#fff" stroke="#000" stroke-width="2.6"/>
<ellipse cx="826" cy="1376" rx="6.875000000000001" ry="2.75" transform="rotate(0 826 1376)" fill="none" stroke="#000" stroke-width="1.8"/>
<path d="M811.5,1396 L811.5,1404 A12.5,5.5 0 0 0 836.5,1404 L836.5,1396" fill="#fff" stroke="#000" stroke-width="2.6"/>
<ellipse cx="824" cy="1396" rx="12.5" ry="5.5" transform="rotate(0 824 1396)" fill="#fff" stroke="#000" stroke-width="2.6"/>
<ellipse cx="824" cy="1396" rx="6.875000000000001" ry="3.0250000000000004" transform="rotate(0 824 1396)" fill="none" stroke="#000" stroke-width="1.8"/>
<path d="M810,1428 L810,1433 A12,5 0 0 0 834,1433 L834,1428" fill="#fff" stroke="#000" stroke-width="2.6"/>
<ellipse cx="822" cy="1428" rx="12" ry="5" transform="rotate(0 822 1428)" fill="#fff" stroke="#000" stroke-width="2.6"/>
<ellipse cx="822" cy="1428" rx="6.0" ry="2.5" transform="rotate(0 822 1428)" fill="none" stroke="#000" stroke-width="1.8"/>
<path d="M810,1438 L810,1443 A12,5 0 0 0 834,1443 L834,1438" fill="#fff" stroke="#000" stroke-width="2.6"/>
<ellipse cx="822" cy="1438" rx="12" ry="5" transform="rotate(0 822 1438)" fill="#fff" stroke="#000" stroke-width="2.6"/>
<ellipse cx="822" cy="1438" rx="6.0" ry="2.5" transform="rotate(0 822 1438)" fill="none" stroke="#000" stroke-width="1.8"/>
<path d="M810,1448 L810,1453 A12,5 0 0 0 834,1453 L834,1448" fill="#fff" stroke="#000" stroke-width="2.6"/>
<ellipse cx="822" cy="1448" rx="12" ry="5" transform="rotate(0 822 1448)" fill="#fff" stroke="#000" stroke-width="2.6"/>
<ellipse cx="822" cy="1448" rx="6.0" ry="2.5" transform="rotate(0 822 1448)" fill="none" stroke="#000" stroke-width="1.8"/>
<path d="M816,1473 L816,1497 Q822,1501 828,1497 L828,1473" fill="#fff" stroke="#000" stroke-width="2.4"/>
<ellipse cx="822" cy="1473" rx="6" ry="3" transform="rotate(0 822 1473)" fill="#fff" stroke="#000" stroke-width="2.4"/>
<path d="M794,1523 Q797,1517 804,1518 L820,1512 M798,1526 L821,1517" fill="none" stroke="#000" stroke-width="2.2" stroke-linejoin="round" stroke-linecap="round"/>
<path d="M743.7,680.9 L816.2,728.4 A4.2,7.0 33.2 0 0 823.8,716.6 L751.3,669.1 A4.2,7.0 33.2 0 0 743.7,680.9 Z" stroke="#000" stroke-width="2.6" fill="#fff" stroke-linejoin="round"/>
<ellipse cx="820" cy="722.5" rx="4.2" ry="7" transform="rotate(33.231711067979354 820 722.5)" fill="none" stroke="#000" stroke-width="1.6"/>
<rect x="786" y="700" width="9" height="3.5" transform="rotate(33 786 700)" fill="none" stroke="#000" stroke-width="1.6"/>
<rect x="801" y="709" width="9" height="3.5" transform="rotate(33 801 709)" fill="none" stroke="#000" stroke-width="1.6"/>
</svg></body></html>
